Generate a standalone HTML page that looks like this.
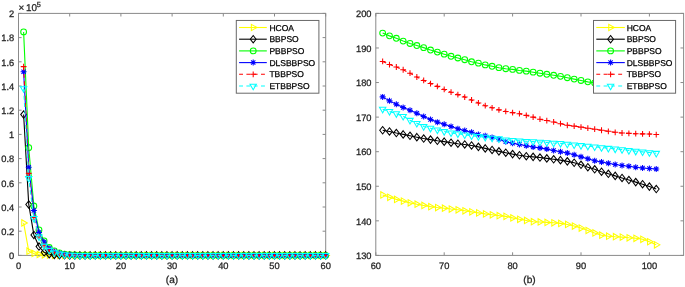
<!DOCTYPE html>
<html><head><meta charset="utf-8"><title>Convergence curves</title>
<style>html,body{margin:0;padding:0;background:#fff}svg{display:block}text{stroke:#262626;stroke-width:.28px;text-rendering:geometricPrecision}text.lg{stroke:#000;stroke-width:.25px}</style></head>
<body>
<svg width="685" height="287" viewBox="0 0 685 287" font-family='"Liberation Sans", Arial, Helvetica, sans-serif' font-size="9.3" fill="#262626">
<rect width="685" height="287" fill="#fff"/>
<rect x="18.5" y="13.4" width="307.2" height="242" fill="#fff" stroke="#8a8a8a" stroke-width="1"/>
<path d="M18.5 255.4v-3.1M18.5 13.4v3.1M69.7 255.4v-3.1M69.7 13.4v3.1M120.9 255.4v-3.1M120.9 13.4v3.1M172.1 255.4v-3.1M172.1 13.4v3.1M223.3 255.4v-3.1M223.3 13.4v3.1M274.5 255.4v-3.1M274.5 13.4v3.1M325.7 255.4v-3.1M325.7 13.4v3.1M18.5 255.4h3.1M325.7 255.4h-3.1M18.5 231.2h3.1M325.7 231.2h-3.1M18.5 207h3.1M325.7 207h-3.1M18.5 182.8h3.1M325.7 182.8h-3.1M18.5 158.6h3.1M325.7 158.6h-3.1M18.5 134.4h3.1M325.7 134.4h-3.1M18.5 110.2h3.1M325.7 110.2h-3.1M18.5 86h3.1M325.7 86h-3.1M18.5 61.8h3.1M325.7 61.8h-3.1M18.5 37.6h3.1M325.7 37.6h-3.1M18.5 13.4h3.1M325.7 13.4h-3.1" stroke="#8a8a8a" stroke-width="1" fill="none"/>
<text x="18.5" y="269.1" text-anchor="middle">0</text>
<text x="69.7" y="269.1" text-anchor="middle">10</text>
<text x="120.9" y="269.1" text-anchor="middle">20</text>
<text x="172.1" y="269.1" text-anchor="middle">30</text>
<text x="223.3" y="269.1" text-anchor="middle">40</text>
<text x="274.5" y="269.1" text-anchor="middle">50</text>
<text x="325.7" y="269.1" text-anchor="middle">60</text>
<text x="14.2" y="259.1" text-anchor="end">0</text>
<text x="14.2" y="234.9" text-anchor="end">0.2</text>
<text x="14.2" y="210.7" text-anchor="end">0.4</text>
<text x="14.2" y="186.5" text-anchor="end">0.6</text>
<text x="14.2" y="162.3" text-anchor="end">0.8</text>
<text x="14.2" y="138.1" text-anchor="end">1</text>
<text x="14.2" y="113.9" text-anchor="end">1.2</text>
<text x="14.2" y="89.7" text-anchor="end">1.4</text>
<text x="14.2" y="65.5" text-anchor="end">1.6</text>
<text x="14.2" y="41.3" text-anchor="end">1.8</text>
<text x="14.2" y="17.1" text-anchor="end">2</text>
<text y="11.0" font-size="9.9"><tspan x="18.6">×</tspan><tspan x="25.9">10</tspan><tspan x="36.7" y="6.7" font-size="7.3">5</tspan></text>
<path d="M23.62 222.97 L28.74 251.16 L33.86 253.46 L38.98 254.43 L44.1 254.92 L49.22 255.16 L54.34 255.28 L59.46 255.4 L64.58 255.4 L69.7 255.4 L74.82 255.4 L79.94 255.4 L85.06 255.4 L90.18 255.4 L95.3 255.4 L100.42 255.4 L105.54 255.4 L110.66 255.4 L115.78 255.4 L120.9 255.4 L126.02 255.4 L131.14 255.4 L136.26 255.4 L141.38 255.4 L146.5 255.4 L151.62 255.4 L156.74 255.4 L161.86 255.4 L166.98 255.4 L172.1 255.4 L177.22 255.4 L182.34 255.4 L187.46 255.4 L192.58 255.4 L197.7 255.4 L202.82 255.4 L207.94 255.4 L213.06 255.4 L218.18 255.4 L223.3 255.4 L228.42 255.4 L233.54 255.4 L238.66 255.4 L243.78 255.4 L248.9 255.4 L254.02 255.4 L259.14 255.4 L264.26 255.4 L269.38 255.4 L274.5 255.4 L279.62 255.4 L284.74 255.4 L289.86 255.4 L294.98 255.4 L300.1 255.4 L305.22 255.4 L310.34 255.4 L315.46 255.4 L320.58 255.4 L325.7 255.4" fill="none" stroke="#ffff00" stroke-width="1.1"/>
<g><polygon points="27.32,222.97 21.77,219.77 21.77,226.18" fill="none" stroke="#ffff00" stroke-width="1.05"/><polygon points="32.44,251.16 26.89,247.96 26.89,254.37" fill="none" stroke="#ffff00" stroke-width="1.05"/><polygon points="37.56,253.46 32.01,250.26 32.01,256.67" fill="none" stroke="#ffff00" stroke-width="1.05"/><polygon points="42.68,254.43 37.13,251.23 37.13,257.64" fill="none" stroke="#ffff00" stroke-width="1.05"/><polygon points="47.8,254.92 42.25,251.71 42.25,258.12" fill="none" stroke="#ffff00" stroke-width="1.05"/><polygon points="52.92,255.16 47.37,251.95 47.37,258.36" fill="none" stroke="#ffff00" stroke-width="1.05"/><polygon points="58.04,255.28 52.49,252.07 52.49,258.48" fill="none" stroke="#ffff00" stroke-width="1.05"/><polygon points="63.16,255.4 57.61,252.2 57.61,258.6" fill="none" stroke="#ffff00" stroke-width="1.05"/><polygon points="68.28,255.4 62.73,252.2 62.73,258.6" fill="none" stroke="#ffff00" stroke-width="1.05"/><polygon points="73.4,255.4 67.85,252.2 67.85,258.6" fill="none" stroke="#ffff00" stroke-width="1.05"/><polygon points="78.52,255.4 72.97,252.2 72.97,258.6" fill="none" stroke="#ffff00" stroke-width="1.05"/><polygon points="83.64,255.4 78.09,252.2 78.09,258.6" fill="none" stroke="#ffff00" stroke-width="1.05"/><polygon points="88.76,255.4 83.21,252.2 83.21,258.6" fill="none" stroke="#ffff00" stroke-width="1.05"/><polygon points="93.88,255.4 88.33,252.2 88.33,258.6" fill="none" stroke="#ffff00" stroke-width="1.05"/><polygon points="99,255.4 93.45,252.2 93.45,258.6" fill="none" stroke="#ffff00" stroke-width="1.05"/><polygon points="104.12,255.4 98.57,252.2 98.57,258.6" fill="none" stroke="#ffff00" stroke-width="1.05"/><polygon points="109.24,255.4 103.69,252.2 103.69,258.6" fill="none" stroke="#ffff00" stroke-width="1.05"/><polygon points="114.36,255.4 108.81,252.2 108.81,258.6" fill="none" stroke="#ffff00" stroke-width="1.05"/><polygon points="119.48,255.4 113.93,252.2 113.93,258.6" fill="none" stroke="#ffff00" stroke-width="1.05"/><polygon points="124.6,255.4 119.05,252.2 119.05,258.6" fill="none" stroke="#ffff00" stroke-width="1.05"/><polygon points="129.72,255.4 124.17,252.2 124.17,258.6" fill="none" stroke="#ffff00" stroke-width="1.05"/><polygon points="134.84,255.4 129.29,252.2 129.29,258.6" fill="none" stroke="#ffff00" stroke-width="1.05"/><polygon points="139.96,255.4 134.41,252.2 134.41,258.6" fill="none" stroke="#ffff00" stroke-width="1.05"/><polygon points="145.08,255.4 139.53,252.2 139.53,258.6" fill="none" stroke="#ffff00" stroke-width="1.05"/><polygon points="150.2,255.4 144.65,252.2 144.65,258.6" fill="none" stroke="#ffff00" stroke-width="1.05"/><polygon points="155.32,255.4 149.77,252.2 149.77,258.6" fill="none" stroke="#ffff00" stroke-width="1.05"/><polygon points="160.44,255.4 154.89,252.2 154.89,258.6" fill="none" stroke="#ffff00" stroke-width="1.05"/><polygon points="165.56,255.4 160.01,252.2 160.01,258.6" fill="none" stroke="#ffff00" stroke-width="1.05"/><polygon points="170.68,255.4 165.13,252.2 165.13,258.6" fill="none" stroke="#ffff00" stroke-width="1.05"/><polygon points="175.8,255.4 170.25,252.2 170.25,258.6" fill="none" stroke="#ffff00" stroke-width="1.05"/><polygon points="180.92,255.4 175.37,252.2 175.37,258.6" fill="none" stroke="#ffff00" stroke-width="1.05"/><polygon points="186.04,255.4 180.49,252.2 180.49,258.6" fill="none" stroke="#ffff00" stroke-width="1.05"/><polygon points="191.16,255.4 185.61,252.2 185.61,258.6" fill="none" stroke="#ffff00" stroke-width="1.05"/><polygon points="196.28,255.4 190.73,252.2 190.73,258.6" fill="none" stroke="#ffff00" stroke-width="1.05"/><polygon points="201.4,255.4 195.85,252.2 195.85,258.6" fill="none" stroke="#ffff00" stroke-width="1.05"/><polygon points="206.52,255.4 200.97,252.2 200.97,258.6" fill="none" stroke="#ffff00" stroke-width="1.05"/><polygon points="211.64,255.4 206.09,252.2 206.09,258.6" fill="none" stroke="#ffff00" stroke-width="1.05"/><polygon points="216.76,255.4 211.21,252.2 211.21,258.6" fill="none" stroke="#ffff00" stroke-width="1.05"/><polygon points="221.88,255.4 216.33,252.2 216.33,258.6" fill="none" stroke="#ffff00" stroke-width="1.05"/><polygon points="227,255.4 221.45,252.2 221.45,258.6" fill="none" stroke="#ffff00" stroke-width="1.05"/><polygon points="232.12,255.4 226.57,252.2 226.57,258.6" fill="none" stroke="#ffff00" stroke-width="1.05"/><polygon points="237.24,255.4 231.69,252.2 231.69,258.6" fill="none" stroke="#ffff00" stroke-width="1.05"/><polygon points="242.36,255.4 236.81,252.2 236.81,258.6" fill="none" stroke="#ffff00" stroke-width="1.05"/><polygon points="247.48,255.4 241.93,252.2 241.93,258.6" fill="none" stroke="#ffff00" stroke-width="1.05"/><polygon points="252.6,255.4 247.05,252.2 247.05,258.6" fill="none" stroke="#ffff00" stroke-width="1.05"/><polygon points="257.72,255.4 252.17,252.2 252.17,258.6" fill="none" stroke="#ffff00" stroke-width="1.05"/><polygon points="262.84,255.4 257.29,252.2 257.29,258.6" fill="none" stroke="#ffff00" stroke-width="1.05"/><polygon points="267.96,255.4 262.41,252.2 262.41,258.6" fill="none" stroke="#ffff00" stroke-width="1.05"/><polygon points="273.08,255.4 267.53,252.2 267.53,258.6" fill="none" stroke="#ffff00" stroke-width="1.05"/><polygon points="278.2,255.4 272.65,252.2 272.65,258.6" fill="none" stroke="#ffff00" stroke-width="1.05"/><polygon points="283.32,255.4 277.77,252.2 277.77,258.6" fill="none" stroke="#ffff00" stroke-width="1.05"/><polygon points="288.44,255.4 282.89,252.2 282.89,258.6" fill="none" stroke="#ffff00" stroke-width="1.05"/><polygon points="293.56,255.4 288.01,252.2 288.01,258.6" fill="none" stroke="#ffff00" stroke-width="1.05"/><polygon points="298.68,255.4 293.13,252.2 293.13,258.6" fill="none" stroke="#ffff00" stroke-width="1.05"/><polygon points="303.8,255.4 298.25,252.2 298.25,258.6" fill="none" stroke="#ffff00" stroke-width="1.05"/><polygon points="308.92,255.4 303.37,252.2 303.37,258.6" fill="none" stroke="#ffff00" stroke-width="1.05"/><polygon points="314.04,255.4 308.49,252.2 308.49,258.6" fill="none" stroke="#ffff00" stroke-width="1.05"/><polygon points="319.16,255.4 313.61,252.2 313.61,258.6" fill="none" stroke="#ffff00" stroke-width="1.05"/><polygon points="324.28,255.4 318.73,252.2 318.73,258.6" fill="none" stroke="#ffff00" stroke-width="1.05"/><polygon points="329.4,255.4 323.85,252.2 323.85,258.6" fill="none" stroke="#ffff00" stroke-width="1.05"/></g>
<path d="M23.62 114.56 L28.74 204.46 L33.86 234.95 L38.98 246.57 L44.1 252.25 L49.22 254.19 L54.34 254.92 L59.46 255.16 L64.58 255.28 L69.7 255.4 L74.82 255.4 L79.94 255.4 L85.06 255.4 L90.18 255.4 L95.3 255.4 L100.42 255.4 L105.54 255.4 L110.66 255.4 L115.78 255.4 L120.9 255.4 L126.02 255.4 L131.14 255.4 L136.26 255.4 L141.38 255.4 L146.5 255.4 L151.62 255.4 L156.74 255.4 L161.86 255.4 L166.98 255.4 L172.1 255.4 L177.22 255.4 L182.34 255.4 L187.46 255.4 L192.58 255.4 L197.7 255.4 L202.82 255.4 L207.94 255.4 L213.06 255.4 L218.18 255.4 L223.3 255.4 L228.42 255.4 L233.54 255.4 L238.66 255.4 L243.78 255.4 L248.9 255.4 L254.02 255.4 L259.14 255.4 L264.26 255.4 L269.38 255.4 L274.5 255.4 L279.62 255.4 L284.74 255.4 L289.86 255.4 L294.98 255.4 L300.1 255.4 L305.22 255.4 L310.34 255.4 L315.46 255.4 L320.58 255.4 L325.7 255.4" fill="none" stroke="#000000" stroke-width="1.1"/>
<g><polygon points="23.62,110.86 26.52,114.56 23.62,118.26 20.72,114.56" fill="none" stroke="#000000" stroke-width="1.05"/><polygon points="28.74,200.76 31.64,204.46 28.74,208.16 25.84,204.46" fill="none" stroke="#000000" stroke-width="1.05"/><polygon points="33.86,231.25 36.76,234.95 33.86,238.65 30.96,234.95" fill="none" stroke="#000000" stroke-width="1.05"/><polygon points="38.98,242.87 41.88,246.57 38.98,250.27 36.08,246.57" fill="none" stroke="#000000" stroke-width="1.05"/><polygon points="44.1,248.55 47,252.25 44.1,255.95 41.2,252.25" fill="none" stroke="#000000" stroke-width="1.05"/><polygon points="49.22,250.49 52.12,254.19 49.22,257.89 46.32,254.19" fill="none" stroke="#000000" stroke-width="1.05"/><polygon points="54.34,251.22 57.24,254.92 54.34,258.62 51.44,254.92" fill="none" stroke="#000000" stroke-width="1.05"/><polygon points="59.46,251.46 62.36,255.16 59.46,258.86 56.56,255.16" fill="none" stroke="#000000" stroke-width="1.05"/><polygon points="64.58,251.58 67.48,255.28 64.58,258.98 61.68,255.28" fill="none" stroke="#000000" stroke-width="1.05"/><polygon points="69.7,251.7 72.6,255.4 69.7,259.1 66.8,255.4" fill="none" stroke="#000000" stroke-width="1.05"/><polygon points="74.82,251.7 77.72,255.4 74.82,259.1 71.92,255.4" fill="none" stroke="#000000" stroke-width="1.05"/><polygon points="79.94,251.7 82.84,255.4 79.94,259.1 77.04,255.4" fill="none" stroke="#000000" stroke-width="1.05"/><polygon points="85.06,251.7 87.96,255.4 85.06,259.1 82.16,255.4" fill="none" stroke="#000000" stroke-width="1.05"/><polygon points="90.18,251.7 93.08,255.4 90.18,259.1 87.28,255.4" fill="none" stroke="#000000" stroke-width="1.05"/><polygon points="95.3,251.7 98.2,255.4 95.3,259.1 92.4,255.4" fill="none" stroke="#000000" stroke-width="1.05"/><polygon points="100.42,251.7 103.32,255.4 100.42,259.1 97.52,255.4" fill="none" stroke="#000000" stroke-width="1.05"/><polygon points="105.54,251.7 108.44,255.4 105.54,259.1 102.64,255.4" fill="none" stroke="#000000" stroke-width="1.05"/><polygon points="110.66,251.7 113.56,255.4 110.66,259.1 107.76,255.4" fill="none" stroke="#000000" stroke-width="1.05"/><polygon points="115.78,251.7 118.68,255.4 115.78,259.1 112.88,255.4" fill="none" stroke="#000000" stroke-width="1.05"/><polygon points="120.9,251.7 123.8,255.4 120.9,259.1 118,255.4" fill="none" stroke="#000000" stroke-width="1.05"/><polygon points="126.02,251.7 128.92,255.4 126.02,259.1 123.12,255.4" fill="none" stroke="#000000" stroke-width="1.05"/><polygon points="131.14,251.7 134.04,255.4 131.14,259.1 128.24,255.4" fill="none" stroke="#000000" stroke-width="1.05"/><polygon points="136.26,251.7 139.16,255.4 136.26,259.1 133.36,255.4" fill="none" stroke="#000000" stroke-width="1.05"/><polygon points="141.38,251.7 144.28,255.4 141.38,259.1 138.48,255.4" fill="none" stroke="#000000" stroke-width="1.05"/><polygon points="146.5,251.7 149.4,255.4 146.5,259.1 143.6,255.4" fill="none" stroke="#000000" stroke-width="1.05"/><polygon points="151.62,251.7 154.52,255.4 151.62,259.1 148.72,255.4" fill="none" stroke="#000000" stroke-width="1.05"/><polygon points="156.74,251.7 159.64,255.4 156.74,259.1 153.84,255.4" fill="none" stroke="#000000" stroke-width="1.05"/><polygon points="161.86,251.7 164.76,255.4 161.86,259.1 158.96,255.4" fill="none" stroke="#000000" stroke-width="1.05"/><polygon points="166.98,251.7 169.88,255.4 166.98,259.1 164.08,255.4" fill="none" stroke="#000000" stroke-width="1.05"/><polygon points="172.1,251.7 175,255.4 172.1,259.1 169.2,255.4" fill="none" stroke="#000000" stroke-width="1.05"/><polygon points="177.22,251.7 180.12,255.4 177.22,259.1 174.32,255.4" fill="none" stroke="#000000" stroke-width="1.05"/><polygon points="182.34,251.7 185.24,255.4 182.34,259.1 179.44,255.4" fill="none" stroke="#000000" stroke-width="1.05"/><polygon points="187.46,251.7 190.36,255.4 187.46,259.1 184.56,255.4" fill="none" stroke="#000000" stroke-width="1.05"/><polygon points="192.58,251.7 195.48,255.4 192.58,259.1 189.68,255.4" fill="none" stroke="#000000" stroke-width="1.05"/><polygon points="197.7,251.7 200.6,255.4 197.7,259.1 194.8,255.4" fill="none" stroke="#000000" stroke-width="1.05"/><polygon points="202.82,251.7 205.72,255.4 202.82,259.1 199.92,255.4" fill="none" stroke="#000000" stroke-width="1.05"/><polygon points="207.94,251.7 210.84,255.4 207.94,259.1 205.04,255.4" fill="none" stroke="#000000" stroke-width="1.05"/><polygon points="213.06,251.7 215.96,255.4 213.06,259.1 210.16,255.4" fill="none" stroke="#000000" stroke-width="1.05"/><polygon points="218.18,251.7 221.08,255.4 218.18,259.1 215.28,255.4" fill="none" stroke="#000000" stroke-width="1.05"/><polygon points="223.3,251.7 226.2,255.4 223.3,259.1 220.4,255.4" fill="none" stroke="#000000" stroke-width="1.05"/><polygon points="228.42,251.7 231.32,255.4 228.42,259.1 225.52,255.4" fill="none" stroke="#000000" stroke-width="1.05"/><polygon points="233.54,251.7 236.44,255.4 233.54,259.1 230.64,255.4" fill="none" stroke="#000000" stroke-width="1.05"/><polygon points="238.66,251.7 241.56,255.4 238.66,259.1 235.76,255.4" fill="none" stroke="#000000" stroke-width="1.05"/><polygon points="243.78,251.7 246.68,255.4 243.78,259.1 240.88,255.4" fill="none" stroke="#000000" stroke-width="1.05"/><polygon points="248.9,251.7 251.8,255.4 248.9,259.1 246,255.4" fill="none" stroke="#000000" stroke-width="1.05"/><polygon points="254.02,251.7 256.92,255.4 254.02,259.1 251.12,255.4" fill="none" stroke="#000000" stroke-width="1.05"/><polygon points="259.14,251.7 262.04,255.4 259.14,259.1 256.24,255.4" fill="none" stroke="#000000" stroke-width="1.05"/><polygon points="264.26,251.7 267.16,255.4 264.26,259.1 261.36,255.4" fill="none" stroke="#000000" stroke-width="1.05"/><polygon points="269.38,251.7 272.28,255.4 269.38,259.1 266.48,255.4" fill="none" stroke="#000000" stroke-width="1.05"/><polygon points="274.5,251.7 277.4,255.4 274.5,259.1 271.6,255.4" fill="none" stroke="#000000" stroke-width="1.05"/><polygon points="279.62,251.7 282.52,255.4 279.62,259.1 276.72,255.4" fill="none" stroke="#000000" stroke-width="1.05"/><polygon points="284.74,251.7 287.64,255.4 284.74,259.1 281.84,255.4" fill="none" stroke="#000000" stroke-width="1.05"/><polygon points="289.86,251.7 292.76,255.4 289.86,259.1 286.96,255.4" fill="none" stroke="#000000" stroke-width="1.05"/><polygon points="294.98,251.7 297.88,255.4 294.98,259.1 292.08,255.4" fill="none" stroke="#000000" stroke-width="1.05"/><polygon points="300.1,251.7 303,255.4 300.1,259.1 297.2,255.4" fill="none" stroke="#000000" stroke-width="1.05"/><polygon points="305.22,251.7 308.12,255.4 305.22,259.1 302.32,255.4" fill="none" stroke="#000000" stroke-width="1.05"/><polygon points="310.34,251.7 313.24,255.4 310.34,259.1 307.44,255.4" fill="none" stroke="#000000" stroke-width="1.05"/><polygon points="315.46,251.7 318.36,255.4 315.46,259.1 312.56,255.4" fill="none" stroke="#000000" stroke-width="1.05"/><polygon points="320.58,251.7 323.48,255.4 320.58,259.1 317.68,255.4" fill="none" stroke="#000000" stroke-width="1.05"/><polygon points="325.7,251.7 328.6,255.4 325.7,259.1 322.8,255.4" fill="none" stroke="#000000" stroke-width="1.05"/></g>
<path d="M23.62 31.91 L28.74 147.71 L33.86 206.03 L38.98 229.99 L44.1 240.88 L49.22 247.53 L54.34 250.92 L59.46 252.98 L64.58 254.07 L69.7 254.67 L74.82 255.04 L79.94 255.16 L85.06 255.28 L90.18 255.4 L95.3 255.4 L100.42 255.4 L105.54 255.4 L110.66 255.4 L115.78 255.4 L120.9 255.4 L126.02 255.4 L131.14 255.4 L136.26 255.4 L141.38 255.4 L146.5 255.4 L151.62 255.4 L156.74 255.4 L161.86 255.4 L166.98 255.4 L172.1 255.4 L177.22 255.4 L182.34 255.4 L187.46 255.4 L192.58 255.4 L197.7 255.4 L202.82 255.4 L207.94 255.4 L213.06 255.4 L218.18 255.4 L223.3 255.4 L228.42 255.4 L233.54 255.4 L238.66 255.4 L243.78 255.4 L248.9 255.4 L254.02 255.4 L259.14 255.4 L264.26 255.4 L269.38 255.4 L274.5 255.4 L279.62 255.4 L284.74 255.4 L289.86 255.4 L294.98 255.4 L300.1 255.4 L305.22 255.4 L310.34 255.4 L315.46 255.4 L320.58 255.4 L325.7 255.4" fill="none" stroke="#00ff00" stroke-width="1.1"/>
<g><circle cx="23.62" cy="31.91" r="2.9" fill="none" stroke="#00ff00" stroke-width="1.05"/><circle cx="28.74" cy="147.71" r="2.9" fill="none" stroke="#00ff00" stroke-width="1.05"/><circle cx="33.86" cy="206.03" r="2.9" fill="none" stroke="#00ff00" stroke-width="1.05"/><circle cx="38.98" cy="229.99" r="2.9" fill="none" stroke="#00ff00" stroke-width="1.05"/><circle cx="44.1" cy="240.88" r="2.9" fill="none" stroke="#00ff00" stroke-width="1.05"/><circle cx="49.22" cy="247.53" r="2.9" fill="none" stroke="#00ff00" stroke-width="1.05"/><circle cx="54.34" cy="250.92" r="2.9" fill="none" stroke="#00ff00" stroke-width="1.05"/><circle cx="59.46" cy="252.98" r="2.9" fill="none" stroke="#00ff00" stroke-width="1.05"/><circle cx="64.58" cy="254.07" r="2.9" fill="none" stroke="#00ff00" stroke-width="1.05"/><circle cx="69.7" cy="254.67" r="2.9" fill="none" stroke="#00ff00" stroke-width="1.05"/><circle cx="74.82" cy="255.04" r="2.9" fill="none" stroke="#00ff00" stroke-width="1.05"/><circle cx="79.94" cy="255.16" r="2.9" fill="none" stroke="#00ff00" stroke-width="1.05"/><circle cx="85.06" cy="255.28" r="2.9" fill="none" stroke="#00ff00" stroke-width="1.05"/><circle cx="90.18" cy="255.4" r="2.9" fill="none" stroke="#00ff00" stroke-width="1.05"/><circle cx="95.3" cy="255.4" r="2.9" fill="none" stroke="#00ff00" stroke-width="1.05"/><circle cx="100.42" cy="255.4" r="2.9" fill="none" stroke="#00ff00" stroke-width="1.05"/><circle cx="105.54" cy="255.4" r="2.9" fill="none" stroke="#00ff00" stroke-width="1.05"/><circle cx="110.66" cy="255.4" r="2.9" fill="none" stroke="#00ff00" stroke-width="1.05"/><circle cx="115.78" cy="255.4" r="2.9" fill="none" stroke="#00ff00" stroke-width="1.05"/><circle cx="120.9" cy="255.4" r="2.9" fill="none" stroke="#00ff00" stroke-width="1.05"/><circle cx="126.02" cy="255.4" r="2.9" fill="none" stroke="#00ff00" stroke-width="1.05"/><circle cx="131.14" cy="255.4" r="2.9" fill="none" stroke="#00ff00" stroke-width="1.05"/><circle cx="136.26" cy="255.4" r="2.9" fill="none" stroke="#00ff00" stroke-width="1.05"/><circle cx="141.38" cy="255.4" r="2.9" fill="none" stroke="#00ff00" stroke-width="1.05"/><circle cx="146.5" cy="255.4" r="2.9" fill="none" stroke="#00ff00" stroke-width="1.05"/><circle cx="151.62" cy="255.4" r="2.9" fill="none" stroke="#00ff00" stroke-width="1.05"/><circle cx="156.74" cy="255.4" r="2.9" fill="none" stroke="#00ff00" stroke-width="1.05"/><circle cx="161.86" cy="255.4" r="2.9" fill="none" stroke="#00ff00" stroke-width="1.05"/><circle cx="166.98" cy="255.4" r="2.9" fill="none" stroke="#00ff00" stroke-width="1.05"/><circle cx="172.1" cy="255.4" r="2.9" fill="none" stroke="#00ff00" stroke-width="1.05"/><circle cx="177.22" cy="255.4" r="2.9" fill="none" stroke="#00ff00" stroke-width="1.05"/><circle cx="182.34" cy="255.4" r="2.9" fill="none" stroke="#00ff00" stroke-width="1.05"/><circle cx="187.46" cy="255.4" r="2.9" fill="none" stroke="#00ff00" stroke-width="1.05"/><circle cx="192.58" cy="255.4" r="2.9" fill="none" stroke="#00ff00" stroke-width="1.05"/><circle cx="197.7" cy="255.4" r="2.9" fill="none" stroke="#00ff00" stroke-width="1.05"/><circle cx="202.82" cy="255.4" r="2.9" fill="none" stroke="#00ff00" stroke-width="1.05"/><circle cx="207.94" cy="255.4" r="2.9" fill="none" stroke="#00ff00" stroke-width="1.05"/><circle cx="213.06" cy="255.4" r="2.9" fill="none" stroke="#00ff00" stroke-width="1.05"/><circle cx="218.18" cy="255.4" r="2.9" fill="none" stroke="#00ff00" stroke-width="1.05"/><circle cx="223.3" cy="255.4" r="2.9" fill="none" stroke="#00ff00" stroke-width="1.05"/><circle cx="228.42" cy="255.4" r="2.9" fill="none" stroke="#00ff00" stroke-width="1.05"/><circle cx="233.54" cy="255.4" r="2.9" fill="none" stroke="#00ff00" stroke-width="1.05"/><circle cx="238.66" cy="255.4" r="2.9" fill="none" stroke="#00ff00" stroke-width="1.05"/><circle cx="243.78" cy="255.4" r="2.9" fill="none" stroke="#00ff00" stroke-width="1.05"/><circle cx="248.9" cy="255.4" r="2.9" fill="none" stroke="#00ff00" stroke-width="1.05"/><circle cx="254.02" cy="255.4" r="2.9" fill="none" stroke="#00ff00" stroke-width="1.05"/><circle cx="259.14" cy="255.4" r="2.9" fill="none" stroke="#00ff00" stroke-width="1.05"/><circle cx="264.26" cy="255.4" r="2.9" fill="none" stroke="#00ff00" stroke-width="1.05"/><circle cx="269.38" cy="255.4" r="2.9" fill="none" stroke="#00ff00" stroke-width="1.05"/><circle cx="274.5" cy="255.4" r="2.9" fill="none" stroke="#00ff00" stroke-width="1.05"/><circle cx="279.62" cy="255.4" r="2.9" fill="none" stroke="#00ff00" stroke-width="1.05"/><circle cx="284.74" cy="255.4" r="2.9" fill="none" stroke="#00ff00" stroke-width="1.05"/><circle cx="289.86" cy="255.4" r="2.9" fill="none" stroke="#00ff00" stroke-width="1.05"/><circle cx="294.98" cy="255.4" r="2.9" fill="none" stroke="#00ff00" stroke-width="1.05"/><circle cx="300.1" cy="255.4" r="2.9" fill="none" stroke="#00ff00" stroke-width="1.05"/><circle cx="305.22" cy="255.4" r="2.9" fill="none" stroke="#00ff00" stroke-width="1.05"/><circle cx="310.34" cy="255.4" r="2.9" fill="none" stroke="#00ff00" stroke-width="1.05"/><circle cx="315.46" cy="255.4" r="2.9" fill="none" stroke="#00ff00" stroke-width="1.05"/><circle cx="320.58" cy="255.4" r="2.9" fill="none" stroke="#00ff00" stroke-width="1.05"/><circle cx="325.7" cy="255.4" r="2.9" fill="none" stroke="#00ff00" stroke-width="1.05"/></g>
<path d="M23.62 71.84 L28.74 167.19 L33.86 210.51 L38.98 232.41 L44.1 242.09 L49.22 248.38 L54.34 251.41 L59.46 253.22 L64.58 254.19 L69.7 254.8 L74.82 255.04 L79.94 255.28 L85.06 255.4 L90.18 255.4 L95.3 255.4 L100.42 255.4 L105.54 255.4 L110.66 255.4 L115.78 255.4 L120.9 255.4 L126.02 255.4 L131.14 255.4 L136.26 255.4 L141.38 255.4 L146.5 255.4 L151.62 255.4 L156.74 255.4 L161.86 255.4 L166.98 255.4 L172.1 255.4 L177.22 255.4 L182.34 255.4 L187.46 255.4 L192.58 255.4 L197.7 255.4 L202.82 255.4 L207.94 255.4 L213.06 255.4 L218.18 255.4 L223.3 255.4 L228.42 255.4 L233.54 255.4 L238.66 255.4 L243.78 255.4 L248.9 255.4 L254.02 255.4 L259.14 255.4 L264.26 255.4 L269.38 255.4 L274.5 255.4 L279.62 255.4 L284.74 255.4 L289.86 255.4 L294.98 255.4 L300.1 255.4 L305.22 255.4 L310.34 255.4 L315.46 255.4 L320.58 255.4 L325.7 255.4" fill="none" stroke="#0000ff" stroke-width="1.1"/>
<g><path d="M20.62 71.84H26.62M23.62 68.84V74.84M21.47 69.69L25.77 73.99M21.47 73.99L25.77 69.69" stroke="#0000ff" stroke-width="1.05" fill="none"/><path d="M25.74 167.19H31.74M28.74 164.19V170.19M26.59 165.04L30.89 169.34M26.59 169.34L30.89 165.04" stroke="#0000ff" stroke-width="1.05" fill="none"/><path d="M30.86 210.51H36.86M33.86 207.51V213.51M31.71 208.36L36.01 212.66M31.71 212.66L36.01 208.36" stroke="#0000ff" stroke-width="1.05" fill="none"/><path d="M35.98 232.41H41.98M38.98 229.41V235.41M36.83 230.26L41.13 234.56M36.83 234.56L41.13 230.26" stroke="#0000ff" stroke-width="1.05" fill="none"/><path d="M41.1 242.09H47.1M44.1 239.09V245.09M41.95 239.94L46.25 244.24M41.95 244.24L46.25 239.94" stroke="#0000ff" stroke-width="1.05" fill="none"/><path d="M46.22 248.38H52.22M49.22 245.38V251.38M47.07 246.23L51.37 250.53M47.07 250.53L51.37 246.23" stroke="#0000ff" stroke-width="1.05" fill="none"/><path d="M51.34 251.41H57.34M54.34 248.41V254.41M52.19 249.26L56.49 253.56M52.19 253.56L56.49 249.26" stroke="#0000ff" stroke-width="1.05" fill="none"/><path d="M56.46 253.22H62.46M59.46 250.22V256.22M57.31 251.07L61.61 255.37M57.31 255.37L61.61 251.07" stroke="#0000ff" stroke-width="1.05" fill="none"/><path d="M61.58 254.19H67.58M64.58 251.19V257.19M62.43 252.04L66.73 256.34M62.43 256.34L66.73 252.04" stroke="#0000ff" stroke-width="1.05" fill="none"/><path d="M66.7 254.8H72.7M69.7 251.8V257.8M67.55 252.65L71.85 256.94M67.55 256.94L71.85 252.65" stroke="#0000ff" stroke-width="1.05" fill="none"/><path d="M71.82 255.04H77.82M74.82 252.04V258.04M72.67 252.89L76.97 257.19M72.67 257.19L76.97 252.89" stroke="#0000ff" stroke-width="1.05" fill="none"/><path d="M76.94 255.28H82.94M79.94 252.28V258.28M77.79 253.13L82.09 257.43M77.79 257.43L82.09 253.13" stroke="#0000ff" stroke-width="1.05" fill="none"/><path d="M82.06 255.4H88.06M85.06 252.4V258.4M82.91 253.25L87.21 257.55M82.91 257.55L87.21 253.25" stroke="#0000ff" stroke-width="1.05" fill="none"/><path d="M87.18 255.4H93.18M90.18 252.4V258.4M88.03 253.25L92.33 257.55M88.03 257.55L92.33 253.25" stroke="#0000ff" stroke-width="1.05" fill="none"/><path d="M92.3 255.4H98.3M95.3 252.4V258.4M93.15 253.25L97.45 257.55M93.15 257.55L97.45 253.25" stroke="#0000ff" stroke-width="1.05" fill="none"/><path d="M97.42 255.4H103.42M100.42 252.4V258.4M98.27 253.25L102.57 257.55M98.27 257.55L102.57 253.25" stroke="#0000ff" stroke-width="1.05" fill="none"/><path d="M102.54 255.4H108.54M105.54 252.4V258.4M103.39 253.25L107.69 257.55M103.39 257.55L107.69 253.25" stroke="#0000ff" stroke-width="1.05" fill="none"/><path d="M107.66 255.4H113.66M110.66 252.4V258.4M108.51 253.25L112.81 257.55M108.51 257.55L112.81 253.25" stroke="#0000ff" stroke-width="1.05" fill="none"/><path d="M112.78 255.4H118.78M115.78 252.4V258.4M113.63 253.25L117.93 257.55M113.63 257.55L117.93 253.25" stroke="#0000ff" stroke-width="1.05" fill="none"/><path d="M117.9 255.4H123.9M120.9 252.4V258.4M118.75 253.25L123.05 257.55M118.75 257.55L123.05 253.25" stroke="#0000ff" stroke-width="1.05" fill="none"/><path d="M123.02 255.4H129.02M126.02 252.4V258.4M123.87 253.25L128.17 257.55M123.87 257.55L128.17 253.25" stroke="#0000ff" stroke-width="1.05" fill="none"/><path d="M128.14 255.4H134.14M131.14 252.4V258.4M128.99 253.25L133.29 257.55M128.99 257.55L133.29 253.25" stroke="#0000ff" stroke-width="1.05" fill="none"/><path d="M133.26 255.4H139.26M136.26 252.4V258.4M134.11 253.25L138.41 257.55M134.11 257.55L138.41 253.25" stroke="#0000ff" stroke-width="1.05" fill="none"/><path d="M138.38 255.4H144.38M141.38 252.4V258.4M139.23 253.25L143.53 257.55M139.23 257.55L143.53 253.25" stroke="#0000ff" stroke-width="1.05" fill="none"/><path d="M143.5 255.4H149.5M146.5 252.4V258.4M144.35 253.25L148.65 257.55M144.35 257.55L148.65 253.25" stroke="#0000ff" stroke-width="1.05" fill="none"/><path d="M148.62 255.4H154.62M151.62 252.4V258.4M149.47 253.25L153.77 257.55M149.47 257.55L153.77 253.25" stroke="#0000ff" stroke-width="1.05" fill="none"/><path d="M153.74 255.4H159.74M156.74 252.4V258.4M154.59 253.25L158.89 257.55M154.59 257.55L158.89 253.25" stroke="#0000ff" stroke-width="1.05" fill="none"/><path d="M158.86 255.4H164.86M161.86 252.4V258.4M159.71 253.25L164.01 257.55M159.71 257.55L164.01 253.25" stroke="#0000ff" stroke-width="1.05" fill="none"/><path d="M163.98 255.4H169.98M166.98 252.4V258.4M164.83 253.25L169.13 257.55M164.83 257.55L169.13 253.25" stroke="#0000ff" stroke-width="1.05" fill="none"/><path d="M169.1 255.4H175.1M172.1 252.4V258.4M169.95 253.25L174.25 257.55M169.95 257.55L174.25 253.25" stroke="#0000ff" stroke-width="1.05" fill="none"/><path d="M174.22 255.4H180.22M177.22 252.4V258.4M175.07 253.25L179.37 257.55M175.07 257.55L179.37 253.25" stroke="#0000ff" stroke-width="1.05" fill="none"/><path d="M179.34 255.4H185.34M182.34 252.4V258.4M180.19 253.25L184.49 257.55M180.19 257.55L184.49 253.25" stroke="#0000ff" stroke-width="1.05" fill="none"/><path d="M184.46 255.4H190.46M187.46 252.4V258.4M185.31 253.25L189.61 257.55M185.31 257.55L189.61 253.25" stroke="#0000ff" stroke-width="1.05" fill="none"/><path d="M189.58 255.4H195.58M192.58 252.4V258.4M190.43 253.25L194.73 257.55M190.43 257.55L194.73 253.25" stroke="#0000ff" stroke-width="1.05" fill="none"/><path d="M194.7 255.4H200.7M197.7 252.4V258.4M195.55 253.25L199.85 257.55M195.55 257.55L199.85 253.25" stroke="#0000ff" stroke-width="1.05" fill="none"/><path d="M199.82 255.4H205.82M202.82 252.4V258.4M200.67 253.25L204.97 257.55M200.67 257.55L204.97 253.25" stroke="#0000ff" stroke-width="1.05" fill="none"/><path d="M204.94 255.4H210.94M207.94 252.4V258.4M205.79 253.25L210.09 257.55M205.79 257.55L210.09 253.25" stroke="#0000ff" stroke-width="1.05" fill="none"/><path d="M210.06 255.4H216.06M213.06 252.4V258.4M210.91 253.25L215.21 257.55M210.91 257.55L215.21 253.25" stroke="#0000ff" stroke-width="1.05" fill="none"/><path d="M215.18 255.4H221.18M218.18 252.4V258.4M216.03 253.25L220.33 257.55M216.03 257.55L220.33 253.25" stroke="#0000ff" stroke-width="1.05" fill="none"/><path d="M220.3 255.4H226.3M223.3 252.4V258.4M221.15 253.25L225.45 257.55M221.15 257.55L225.45 253.25" stroke="#0000ff" stroke-width="1.05" fill="none"/><path d="M225.42 255.4H231.42M228.42 252.4V258.4M226.27 253.25L230.57 257.55M226.27 257.55L230.57 253.25" stroke="#0000ff" stroke-width="1.05" fill="none"/><path d="M230.54 255.4H236.54M233.54 252.4V258.4M231.39 253.25L235.69 257.55M231.39 257.55L235.69 253.25" stroke="#0000ff" stroke-width="1.05" fill="none"/><path d="M235.66 255.4H241.66M238.66 252.4V258.4M236.51 253.25L240.81 257.55M236.51 257.55L240.81 253.25" stroke="#0000ff" stroke-width="1.05" fill="none"/><path d="M240.78 255.4H246.78M243.78 252.4V258.4M241.63 253.25L245.93 257.55M241.63 257.55L245.93 253.25" stroke="#0000ff" stroke-width="1.05" fill="none"/><path d="M245.9 255.4H251.9M248.9 252.4V258.4M246.75 253.25L251.05 257.55M246.75 257.55L251.05 253.25" stroke="#0000ff" stroke-width="1.05" fill="none"/><path d="M251.02 255.4H257.02M254.02 252.4V258.4M251.87 253.25L256.17 257.55M251.87 257.55L256.17 253.25" stroke="#0000ff" stroke-width="1.05" fill="none"/><path d="M256.14 255.4H262.14M259.14 252.4V258.4M256.99 253.25L261.29 257.55M256.99 257.55L261.29 253.25" stroke="#0000ff" stroke-width="1.05" fill="none"/><path d="M261.26 255.4H267.26M264.26 252.4V258.4M262.11 253.25L266.41 257.55M262.11 257.55L266.41 253.25" stroke="#0000ff" stroke-width="1.05" fill="none"/><path d="M266.38 255.4H272.38M269.38 252.4V258.4M267.23 253.25L271.53 257.55M267.23 257.55L271.53 253.25" stroke="#0000ff" stroke-width="1.05" fill="none"/><path d="M271.5 255.4H277.5M274.5 252.4V258.4M272.35 253.25L276.65 257.55M272.35 257.55L276.65 253.25" stroke="#0000ff" stroke-width="1.05" fill="none"/><path d="M276.62 255.4H282.62M279.62 252.4V258.4M277.47 253.25L281.77 257.55M277.47 257.55L281.77 253.25" stroke="#0000ff" stroke-width="1.05" fill="none"/><path d="M281.74 255.4H287.74M284.74 252.4V258.4M282.59 253.25L286.89 257.55M282.59 257.55L286.89 253.25" stroke="#0000ff" stroke-width="1.05" fill="none"/><path d="M286.86 255.4H292.86M289.86 252.4V258.4M287.71 253.25L292.01 257.55M287.71 257.55L292.01 253.25" stroke="#0000ff" stroke-width="1.05" fill="none"/><path d="M291.98 255.4H297.98M294.98 252.4V258.4M292.83 253.25L297.13 257.55M292.83 257.55L297.13 253.25" stroke="#0000ff" stroke-width="1.05" fill="none"/><path d="M297.1 255.4H303.1M300.1 252.4V258.4M297.95 253.25L302.25 257.55M297.95 257.55L302.25 253.25" stroke="#0000ff" stroke-width="1.05" fill="none"/><path d="M302.22 255.4H308.22M305.22 252.4V258.4M303.07 253.25L307.37 257.55M303.07 257.55L307.37 253.25" stroke="#0000ff" stroke-width="1.05" fill="none"/><path d="M307.34 255.4H313.34M310.34 252.4V258.4M308.19 253.25L312.49 257.55M308.19 257.55L312.49 253.25" stroke="#0000ff" stroke-width="1.05" fill="none"/><path d="M312.46 255.4H318.46M315.46 252.4V258.4M313.31 253.25L317.61 257.55M313.31 257.55L317.61 253.25" stroke="#0000ff" stroke-width="1.05" fill="none"/><path d="M317.58 255.4H323.58M320.58 252.4V258.4M318.43 253.25L322.73 257.55M318.43 257.55L322.73 253.25" stroke="#0000ff" stroke-width="1.05" fill="none"/><path d="M322.7 255.4H328.7M325.7 252.4V258.4M323.55 253.25L327.85 257.55M323.55 257.55L327.85 253.25" stroke="#0000ff" stroke-width="1.05" fill="none"/></g>
<path d="M23.62 66.64 L28.74 173.36 L33.86 217.53 L38.98 236.89 L44.1 245.72 L49.22 250.2 L54.34 252.5 L59.46 253.95 L64.58 254.67 L69.7 255.04 L74.82 255.28 L79.94 255.4 L85.06 255.4 L90.18 255.4 L95.3 255.4 L100.42 255.4 L105.54 255.4 L110.66 255.4 L115.78 255.4 L120.9 255.4 L126.02 255.4 L131.14 255.4 L136.26 255.4 L141.38 255.4 L146.5 255.4 L151.62 255.4 L156.74 255.4 L161.86 255.4 L166.98 255.4 L172.1 255.4 L177.22 255.4 L182.34 255.4 L187.46 255.4 L192.58 255.4 L197.7 255.4 L202.82 255.4 L207.94 255.4 L213.06 255.4 L218.18 255.4 L223.3 255.4 L228.42 255.4 L233.54 255.4 L238.66 255.4 L243.78 255.4 L248.9 255.4 L254.02 255.4 L259.14 255.4 L264.26 255.4 L269.38 255.4 L274.5 255.4 L279.62 255.4 L284.74 255.4 L289.86 255.4 L294.98 255.4 L300.1 255.4 L305.22 255.4 L310.34 255.4 L315.46 255.4 L320.58 255.4 L325.7 255.4" fill="none" stroke="#ff0000" stroke-width="1.1" stroke-dasharray="3.9 3.4"/>
<g><path d="M20.72 66.64H26.52M23.62 63.74V69.54" stroke="#ff0000" stroke-width="1.05" fill="none"/><path d="M25.84 173.36H31.64M28.74 170.46V176.26" stroke="#ff0000" stroke-width="1.05" fill="none"/><path d="M30.96 217.53H36.76M33.86 214.63V220.43" stroke="#ff0000" stroke-width="1.05" fill="none"/><path d="M36.08 236.89H41.88M38.98 233.99V239.79" stroke="#ff0000" stroke-width="1.05" fill="none"/><path d="M41.2 245.72H47M44.1 242.82V248.62" stroke="#ff0000" stroke-width="1.05" fill="none"/><path d="M46.32 250.2H52.12M49.22 247.3V253.1" stroke="#ff0000" stroke-width="1.05" fill="none"/><path d="M51.44 252.5H57.24M54.34 249.6V255.4" stroke="#ff0000" stroke-width="1.05" fill="none"/><path d="M56.56 253.95H62.36M59.46 251.05V256.85" stroke="#ff0000" stroke-width="1.05" fill="none"/><path d="M61.68 254.67H67.48M64.58 251.77V257.57" stroke="#ff0000" stroke-width="1.05" fill="none"/><path d="M66.8 255.04H72.6M69.7 252.14V257.94" stroke="#ff0000" stroke-width="1.05" fill="none"/><path d="M71.92 255.28H77.72M74.82 252.38V258.18" stroke="#ff0000" stroke-width="1.05" fill="none"/><path d="M77.04 255.4H82.84M79.94 252.5V258.3" stroke="#ff0000" stroke-width="1.05" fill="none"/><path d="M82.16 255.4H87.96M85.06 252.5V258.3" stroke="#ff0000" stroke-width="1.05" fill="none"/><path d="M87.28 255.4H93.08M90.18 252.5V258.3" stroke="#ff0000" stroke-width="1.05" fill="none"/><path d="M92.4 255.4H98.2M95.3 252.5V258.3" stroke="#ff0000" stroke-width="1.05" fill="none"/><path d="M97.52 255.4H103.32M100.42 252.5V258.3" stroke="#ff0000" stroke-width="1.05" fill="none"/><path d="M102.64 255.4H108.44M105.54 252.5V258.3" stroke="#ff0000" stroke-width="1.05" fill="none"/><path d="M107.76 255.4H113.56M110.66 252.5V258.3" stroke="#ff0000" stroke-width="1.05" fill="none"/><path d="M112.88 255.4H118.68M115.78 252.5V258.3" stroke="#ff0000" stroke-width="1.05" fill="none"/><path d="M118 255.4H123.8M120.9 252.5V258.3" stroke="#ff0000" stroke-width="1.05" fill="none"/><path d="M123.12 255.4H128.92M126.02 252.5V258.3" stroke="#ff0000" stroke-width="1.05" fill="none"/><path d="M128.24 255.4H134.04M131.14 252.5V258.3" stroke="#ff0000" stroke-width="1.05" fill="none"/><path d="M133.36 255.4H139.16M136.26 252.5V258.3" stroke="#ff0000" stroke-width="1.05" fill="none"/><path d="M138.48 255.4H144.28M141.38 252.5V258.3" stroke="#ff0000" stroke-width="1.05" fill="none"/><path d="M143.6 255.4H149.4M146.5 252.5V258.3" stroke="#ff0000" stroke-width="1.05" fill="none"/><path d="M148.72 255.4H154.52M151.62 252.5V258.3" stroke="#ff0000" stroke-width="1.05" fill="none"/><path d="M153.84 255.4H159.64M156.74 252.5V258.3" stroke="#ff0000" stroke-width="1.05" fill="none"/><path d="M158.96 255.4H164.76M161.86 252.5V258.3" stroke="#ff0000" stroke-width="1.05" fill="none"/><path d="M164.08 255.4H169.88M166.98 252.5V258.3" stroke="#ff0000" stroke-width="1.05" fill="none"/><path d="M169.2 255.4H175M172.1 252.5V258.3" stroke="#ff0000" stroke-width="1.05" fill="none"/><path d="M174.32 255.4H180.12M177.22 252.5V258.3" stroke="#ff0000" stroke-width="1.05" fill="none"/><path d="M179.44 255.4H185.24M182.34 252.5V258.3" stroke="#ff0000" stroke-width="1.05" fill="none"/><path d="M184.56 255.4H190.36M187.46 252.5V258.3" stroke="#ff0000" stroke-width="1.05" fill="none"/><path d="M189.68 255.4H195.48M192.58 252.5V258.3" stroke="#ff0000" stroke-width="1.05" fill="none"/><path d="M194.8 255.4H200.6M197.7 252.5V258.3" stroke="#ff0000" stroke-width="1.05" fill="none"/><path d="M199.92 255.4H205.72M202.82 252.5V258.3" stroke="#ff0000" stroke-width="1.05" fill="none"/><path d="M205.04 255.4H210.84M207.94 252.5V258.3" stroke="#ff0000" stroke-width="1.05" fill="none"/><path d="M210.16 255.4H215.96M213.06 252.5V258.3" stroke="#ff0000" stroke-width="1.05" fill="none"/><path d="M215.28 255.4H221.08M218.18 252.5V258.3" stroke="#ff0000" stroke-width="1.05" fill="none"/><path d="M220.4 255.4H226.2M223.3 252.5V258.3" stroke="#ff0000" stroke-width="1.05" fill="none"/><path d="M225.52 255.4H231.32M228.42 252.5V258.3" stroke="#ff0000" stroke-width="1.05" fill="none"/><path d="M230.64 255.4H236.44M233.54 252.5V258.3" stroke="#ff0000" stroke-width="1.05" fill="none"/><path d="M235.76 255.4H241.56M238.66 252.5V258.3" stroke="#ff0000" stroke-width="1.05" fill="none"/><path d="M240.88 255.4H246.68M243.78 252.5V258.3" stroke="#ff0000" stroke-width="1.05" fill="none"/><path d="M246 255.4H251.8M248.9 252.5V258.3" stroke="#ff0000" stroke-width="1.05" fill="none"/><path d="M251.12 255.4H256.92M254.02 252.5V258.3" stroke="#ff0000" stroke-width="1.05" fill="none"/><path d="M256.24 255.4H262.04M259.14 252.5V258.3" stroke="#ff0000" stroke-width="1.05" fill="none"/><path d="M261.36 255.4H267.16M264.26 252.5V258.3" stroke="#ff0000" stroke-width="1.05" fill="none"/><path d="M266.48 255.4H272.28M269.38 252.5V258.3" stroke="#ff0000" stroke-width="1.05" fill="none"/><path d="M271.6 255.4H277.4M274.5 252.5V258.3" stroke="#ff0000" stroke-width="1.05" fill="none"/><path d="M276.72 255.4H282.52M279.62 252.5V258.3" stroke="#ff0000" stroke-width="1.05" fill="none"/><path d="M281.84 255.4H287.64M284.74 252.5V258.3" stroke="#ff0000" stroke-width="1.05" fill="none"/><path d="M286.96 255.4H292.76M289.86 252.5V258.3" stroke="#ff0000" stroke-width="1.05" fill="none"/><path d="M292.08 255.4H297.88M294.98 252.5V258.3" stroke="#ff0000" stroke-width="1.05" fill="none"/><path d="M297.2 255.4H303M300.1 252.5V258.3" stroke="#ff0000" stroke-width="1.05" fill="none"/><path d="M302.32 255.4H308.12M305.22 252.5V258.3" stroke="#ff0000" stroke-width="1.05" fill="none"/><path d="M307.44 255.4H313.24M310.34 252.5V258.3" stroke="#ff0000" stroke-width="1.05" fill="none"/><path d="M312.56 255.4H318.36M315.46 252.5V258.3" stroke="#ff0000" stroke-width="1.05" fill="none"/><path d="M317.68 255.4H323.48M320.58 252.5V258.3" stroke="#ff0000" stroke-width="1.05" fill="none"/><path d="M322.8 255.4H328.6M325.7 252.5V258.3" stroke="#ff0000" stroke-width="1.05" fill="none"/></g>
<path d="M23.62 88.54 L28.74 178.32 L33.86 218.25 L38.98 236.89 L44.1 245.96 L49.22 250.2 L54.34 252.5 L59.46 253.95 L64.58 254.67 L69.7 255.04 L74.82 255.28 L79.94 255.4 L85.06 255.4 L90.18 255.4 L95.3 255.4 L100.42 255.4 L105.54 255.4 L110.66 255.4 L115.78 255.4 L120.9 255.4 L126.02 255.4 L131.14 255.4 L136.26 255.4 L141.38 255.4 L146.5 255.4 L151.62 255.4 L156.74 255.4 L161.86 255.4 L166.98 255.4 L172.1 255.4 L177.22 255.4 L182.34 255.4 L187.46 255.4 L192.58 255.4 L197.7 255.4 L202.82 255.4 L207.94 255.4 L213.06 255.4 L218.18 255.4 L223.3 255.4 L228.42 255.4 L233.54 255.4 L238.66 255.4 L243.78 255.4 L248.9 255.4 L254.02 255.4 L259.14 255.4 L264.26 255.4 L269.38 255.4 L274.5 255.4 L279.62 255.4 L284.74 255.4 L289.86 255.4 L294.98 255.4 L300.1 255.4 L305.22 255.4 L310.34 255.4 L315.46 255.4 L320.58 255.4 L325.7 255.4" fill="none" stroke="#00ffff" stroke-width="1.1" stroke-dasharray="3.9 3.4"/>
<g><polygon points="23.62,92.24 20.42,86.69 26.82,86.69" fill="none" stroke="#00ffff" stroke-width="1.05"/><polygon points="28.74,182.02 25.54,176.47 31.94,176.47" fill="none" stroke="#00ffff" stroke-width="1.05"/><polygon points="33.86,221.95 30.66,216.4 37.06,216.4" fill="none" stroke="#00ffff" stroke-width="1.05"/><polygon points="38.98,240.59 35.78,235.04 42.18,235.04" fill="none" stroke="#00ffff" stroke-width="1.05"/><polygon points="44.1,249.66 40.9,244.11 47.3,244.11" fill="none" stroke="#00ffff" stroke-width="1.05"/><polygon points="49.22,253.9 46.02,248.35 52.42,248.35" fill="none" stroke="#00ffff" stroke-width="1.05"/><polygon points="54.34,256.2 51.14,250.65 57.54,250.65" fill="none" stroke="#00ffff" stroke-width="1.05"/><polygon points="59.46,257.65 56.26,252.1 62.66,252.1" fill="none" stroke="#00ffff" stroke-width="1.05"/><polygon points="64.58,258.37 61.38,252.82 67.78,252.82" fill="none" stroke="#00ffff" stroke-width="1.05"/><polygon points="69.7,258.74 66.5,253.19 72.9,253.19" fill="none" stroke="#00ffff" stroke-width="1.05"/><polygon points="74.82,258.98 71.62,253.43 78.02,253.43" fill="none" stroke="#00ffff" stroke-width="1.05"/><polygon points="79.94,259.1 76.74,253.55 83.14,253.55" fill="none" stroke="#00ffff" stroke-width="1.05"/><polygon points="85.06,259.1 81.86,253.55 88.26,253.55" fill="none" stroke="#00ffff" stroke-width="1.05"/><polygon points="90.18,259.1 86.98,253.55 93.38,253.55" fill="none" stroke="#00ffff" stroke-width="1.05"/><polygon points="95.3,259.1 92.1,253.55 98.5,253.55" fill="none" stroke="#00ffff" stroke-width="1.05"/><polygon points="100.42,259.1 97.22,253.55 103.62,253.55" fill="none" stroke="#00ffff" stroke-width="1.05"/><polygon points="105.54,259.1 102.34,253.55 108.74,253.55" fill="none" stroke="#00ffff" stroke-width="1.05"/><polygon points="110.66,259.1 107.46,253.55 113.86,253.55" fill="none" stroke="#00ffff" stroke-width="1.05"/><polygon points="115.78,259.1 112.58,253.55 118.98,253.55" fill="none" stroke="#00ffff" stroke-width="1.05"/><polygon points="120.9,259.1 117.7,253.55 124.1,253.55" fill="none" stroke="#00ffff" stroke-width="1.05"/><polygon points="126.02,259.1 122.82,253.55 129.22,253.55" fill="none" stroke="#00ffff" stroke-width="1.05"/><polygon points="131.14,259.1 127.94,253.55 134.34,253.55" fill="none" stroke="#00ffff" stroke-width="1.05"/><polygon points="136.26,259.1 133.06,253.55 139.46,253.55" fill="none" stroke="#00ffff" stroke-width="1.05"/><polygon points="141.38,259.1 138.18,253.55 144.58,253.55" fill="none" stroke="#00ffff" stroke-width="1.05"/><polygon points="146.5,259.1 143.3,253.55 149.7,253.55" fill="none" stroke="#00ffff" stroke-width="1.05"/><polygon points="151.62,259.1 148.42,253.55 154.82,253.55" fill="none" stroke="#00ffff" stroke-width="1.05"/><polygon points="156.74,259.1 153.54,253.55 159.94,253.55" fill="none" stroke="#00ffff" stroke-width="1.05"/><polygon points="161.86,259.1 158.66,253.55 165.06,253.55" fill="none" stroke="#00ffff" stroke-width="1.05"/><polygon points="166.98,259.1 163.78,253.55 170.18,253.55" fill="none" stroke="#00ffff" stroke-width="1.05"/><polygon points="172.1,259.1 168.9,253.55 175.3,253.55" fill="none" stroke="#00ffff" stroke-width="1.05"/><polygon points="177.22,259.1 174.02,253.55 180.42,253.55" fill="none" stroke="#00ffff" stroke-width="1.05"/><polygon points="182.34,259.1 179.14,253.55 185.54,253.55" fill="none" stroke="#00ffff" stroke-width="1.05"/><polygon points="187.46,259.1 184.26,253.55 190.66,253.55" fill="none" stroke="#00ffff" stroke-width="1.05"/><polygon points="192.58,259.1 189.38,253.55 195.78,253.55" fill="none" stroke="#00ffff" stroke-width="1.05"/><polygon points="197.7,259.1 194.5,253.55 200.9,253.55" fill="none" stroke="#00ffff" stroke-width="1.05"/><polygon points="202.82,259.1 199.62,253.55 206.02,253.55" fill="none" stroke="#00ffff" stroke-width="1.05"/><polygon points="207.94,259.1 204.74,253.55 211.14,253.55" fill="none" stroke="#00ffff" stroke-width="1.05"/><polygon points="213.06,259.1 209.86,253.55 216.26,253.55" fill="none" stroke="#00ffff" stroke-width="1.05"/><polygon points="218.18,259.1 214.98,253.55 221.38,253.55" fill="none" stroke="#00ffff" stroke-width="1.05"/><polygon points="223.3,259.1 220.1,253.55 226.5,253.55" fill="none" stroke="#00ffff" stroke-width="1.05"/><polygon points="228.42,259.1 225.22,253.55 231.62,253.55" fill="none" stroke="#00ffff" stroke-width="1.05"/><polygon points="233.54,259.1 230.34,253.55 236.74,253.55" fill="none" stroke="#00ffff" stroke-width="1.05"/><polygon points="238.66,259.1 235.46,253.55 241.86,253.55" fill="none" stroke="#00ffff" stroke-width="1.05"/><polygon points="243.78,259.1 240.58,253.55 246.98,253.55" fill="none" stroke="#00ffff" stroke-width="1.05"/><polygon points="248.9,259.1 245.7,253.55 252.1,253.55" fill="none" stroke="#00ffff" stroke-width="1.05"/><polygon points="254.02,259.1 250.82,253.55 257.22,253.55" fill="none" stroke="#00ffff" stroke-width="1.05"/><polygon points="259.14,259.1 255.94,253.55 262.34,253.55" fill="none" stroke="#00ffff" stroke-width="1.05"/><polygon points="264.26,259.1 261.06,253.55 267.46,253.55" fill="none" stroke="#00ffff" stroke-width="1.05"/><polygon points="269.38,259.1 266.18,253.55 272.58,253.55" fill="none" stroke="#00ffff" stroke-width="1.05"/><polygon points="274.5,259.1 271.3,253.55 277.7,253.55" fill="none" stroke="#00ffff" stroke-width="1.05"/><polygon points="279.62,259.1 276.42,253.55 282.82,253.55" fill="none" stroke="#00ffff" stroke-width="1.05"/><polygon points="284.74,259.1 281.54,253.55 287.94,253.55" fill="none" stroke="#00ffff" stroke-width="1.05"/><polygon points="289.86,259.1 286.66,253.55 293.06,253.55" fill="none" stroke="#00ffff" stroke-width="1.05"/><polygon points="294.98,259.1 291.78,253.55 298.18,253.55" fill="none" stroke="#00ffff" stroke-width="1.05"/><polygon points="300.1,259.1 296.9,253.55 303.3,253.55" fill="none" stroke="#00ffff" stroke-width="1.05"/><polygon points="305.22,259.1 302.02,253.55 308.42,253.55" fill="none" stroke="#00ffff" stroke-width="1.05"/><polygon points="310.34,259.1 307.14,253.55 313.54,253.55" fill="none" stroke="#00ffff" stroke-width="1.05"/><polygon points="315.46,259.1 312.26,253.55 318.66,253.55" fill="none" stroke="#00ffff" stroke-width="1.05"/><polygon points="320.58,259.1 317.38,253.55 323.78,253.55" fill="none" stroke="#00ffff" stroke-width="1.05"/><polygon points="325.7,259.1 322.5,253.55 328.9,253.55" fill="none" stroke="#00ffff" stroke-width="1.05"/></g>
<rect x="236.3" y="20.45" width="82.6" height="72.75" fill="#fff" stroke="#686868" stroke-width="1"/>
<path d="M239.1 27.5H266.8" stroke="#ffff00" stroke-width="1.1"/>
<polygon points="256.9,27.5 251.35,24.3 251.35,30.7" fill="none" stroke="#ffff00" stroke-width="1.05"/>
<text x="269.4" y="30.65" font-size="8.5" fill="#000" class="lg">HCOA</text>
<path d="M239.1 39.2H266.8" stroke="#000000" stroke-width="1.1"/>
<polygon points="253.2,35.5 256.1,39.2 253.2,42.9 250.3,39.2" fill="none" stroke="#000000" stroke-width="1.05"/>
<text x="269.4" y="42.35" font-size="8.5" fill="#000" class="lg">BBPSO</text>
<path d="M239.1 50.9H266.8" stroke="#00ff00" stroke-width="1.1"/>
<circle cx="253.2" cy="50.9" r="2.9" fill="none" stroke="#00ff00" stroke-width="1.05"/>
<text x="269.4" y="54.05" font-size="8.5" fill="#000" class="lg">PBBPSO</text>
<path d="M239.1 62.6H266.8" stroke="#0000ff" stroke-width="1.1"/>
<path d="M250.2 62.6H256.2M253.2 59.6V65.6M251.05 60.45L255.35 64.75M251.05 64.75L255.35 60.45" stroke="#0000ff" stroke-width="1.05" fill="none"/>
<text x="269.4" y="65.75" font-size="8.5" fill="#000" class="lg">DLSBBPSO</text>
<path d="M239.1 74.3H266.8" stroke="#ff0000" stroke-width="1.1" stroke-dasharray="3.9 3.4"/>
<path d="M250.3 74.3H256.1M253.2 71.4V77.2" stroke="#ff0000" stroke-width="1.05" fill="none"/>
<text x="269.4" y="77.45" font-size="8.5" fill="#000" class="lg">TBBPSO</text>
<path d="M239.1 86H266.8" stroke="#00ffff" stroke-width="1.1" stroke-dasharray="3.9 3.4"/>
<polygon points="253.2,89.7 250,84.15 256.4,84.15" fill="none" stroke="#00ffff" stroke-width="1.05"/>
<text x="269.4" y="89.15" font-size="8.5" fill="#000" class="lg">ETBBPSO</text>
<text x="172" y="282.5" font-size="10.1" text-anchor="middle">(a)</text>
<rect x="375.8" y="13.4" width="307.8" height="242" fill="#fff" stroke="#8a8a8a" stroke-width="1"/>
<path d="M375.8 255.4v-3.1M375.8 13.4v3.1M444.2 255.4v-3.1M444.2 13.4v3.1M512.6 255.4v-3.1M512.6 13.4v3.1M581 255.4v-3.1M581 13.4v3.1M649.4 255.4v-3.1M649.4 13.4v3.1M375.8 255.4h3.1M683.6 255.4h-3.1M375.8 220.83h3.1M683.6 220.83h-3.1M375.8 186.26h3.1M683.6 186.26h-3.1M375.8 151.69h3.1M683.6 151.69h-3.1M375.8 117.11h3.1M683.6 117.11h-3.1M375.8 82.54h3.1M683.6 82.54h-3.1M375.8 47.97h3.1M683.6 47.97h-3.1M375.8 13.4h3.1M683.6 13.4h-3.1" stroke="#8a8a8a" stroke-width="1" fill="none"/>
<text x="375.8" y="269.1" text-anchor="middle">60</text>
<text x="444.2" y="269.1" text-anchor="middle">70</text>
<text x="512.6" y="269.1" text-anchor="middle">80</text>
<text x="581" y="269.1" text-anchor="middle">90</text>
<text x="649.4" y="269.1" text-anchor="middle">100</text>
<text x="371.5" y="259.1" text-anchor="end">130</text>
<text x="371.5" y="224.53" text-anchor="end">140</text>
<text x="371.5" y="189.96" text-anchor="end">150</text>
<text x="371.5" y="155.39" text-anchor="end">160</text>
<text x="371.5" y="120.81" text-anchor="end">170</text>
<text x="371.5" y="86.24" text-anchor="end">180</text>
<text x="371.5" y="51.67" text-anchor="end">190</text>
<text x="371.5" y="17.1" text-anchor="end">200</text>
<path d="M382.64 194.9 L389.48 197.32 L396.32 199.39 L403.16 201.12 L410 202.85 L416.84 204.23 L423.68 205.44 L430.52 206.65 L437.36 207.52 L444.2 208.21 L451.04 209.07 L457.88 209.77 L464.72 210.8 L471.56 211.84 L478.4 212.88 L485.24 213.91 L492.08 214.78 L498.92 215.64 L505.76 216.33 L512.6 217.89 L519.44 219.27 L526.28 220.48 L533.12 221.69 L539.96 221.97 L546.8 222.38 L553.64 222.8 L560.48 223.39 L567.32 224.42 L574.16 226.01 L581 228.09 L587.84 230.51 L594.68 232.93 L601.52 235.18 L608.36 236.21 L615.2 236.73 L622.04 237.08 L628.88 237.77 L635.72 238.29 L642.56 239.32 L649.4 241.74 L656.24 244.86" fill="none" stroke="#ffff00" stroke-width="1.1"/>
<g><polygon points="386.34,194.9 380.79,191.7 380.79,198.1" fill="none" stroke="#ffff00" stroke-width="1.05"/><polygon points="393.18,197.32 387.63,194.12 387.63,200.52" fill="none" stroke="#ffff00" stroke-width="1.05"/><polygon points="400.02,199.39 394.47,196.19 394.47,202.6" fill="none" stroke="#ffff00" stroke-width="1.05"/><polygon points="406.86,201.12 401.31,197.92 401.31,204.33" fill="none" stroke="#ffff00" stroke-width="1.05"/><polygon points="413.7,202.85 408.15,199.65 408.15,206.06" fill="none" stroke="#ffff00" stroke-width="1.05"/><polygon points="420.54,204.23 414.99,201.03 414.99,207.44" fill="none" stroke="#ffff00" stroke-width="1.05"/><polygon points="427.38,205.44 421.83,202.24 421.83,208.65" fill="none" stroke="#ffff00" stroke-width="1.05"/><polygon points="434.22,206.65 428.67,203.45 428.67,209.86" fill="none" stroke="#ffff00" stroke-width="1.05"/><polygon points="441.06,207.52 435.51,204.31 435.51,210.72" fill="none" stroke="#ffff00" stroke-width="1.05"/><polygon points="447.9,208.21 442.35,205.01 442.35,211.41" fill="none" stroke="#ffff00" stroke-width="1.05"/><polygon points="454.74,209.07 449.19,205.87 449.19,212.28" fill="none" stroke="#ffff00" stroke-width="1.05"/><polygon points="461.58,209.77 456.03,206.56 456.03,212.97" fill="none" stroke="#ffff00" stroke-width="1.05"/><polygon points="468.42,210.8 462.87,207.6 462.87,214.01" fill="none" stroke="#ffff00" stroke-width="1.05"/><polygon points="475.26,211.84 469.71,208.64 469.71,215.04" fill="none" stroke="#ffff00" stroke-width="1.05"/><polygon points="482.1,212.88 476.55,209.67 476.55,216.08" fill="none" stroke="#ffff00" stroke-width="1.05"/><polygon points="488.94,213.91 483.39,210.71 483.39,217.12" fill="none" stroke="#ffff00" stroke-width="1.05"/><polygon points="495.78,214.78 490.23,211.57 490.23,217.98" fill="none" stroke="#ffff00" stroke-width="1.05"/><polygon points="502.62,215.64 497.07,212.44 497.07,218.85" fill="none" stroke="#ffff00" stroke-width="1.05"/><polygon points="509.46,216.33 503.91,213.13 503.91,219.54" fill="none" stroke="#ffff00" stroke-width="1.05"/><polygon points="516.3,217.89 510.75,214.69 510.75,221.09" fill="none" stroke="#ffff00" stroke-width="1.05"/><polygon points="523.14,219.27 517.59,216.07 517.59,222.48" fill="none" stroke="#ffff00" stroke-width="1.05"/><polygon points="529.98,220.48 524.43,217.28 524.43,223.69" fill="none" stroke="#ffff00" stroke-width="1.05"/><polygon points="536.82,221.69 531.27,218.49 531.27,224.9" fill="none" stroke="#ffff00" stroke-width="1.05"/><polygon points="543.66,221.97 538.11,218.77 538.11,225.17" fill="none" stroke="#ffff00" stroke-width="1.05"/><polygon points="550.5,222.38 544.95,219.18 544.95,225.59" fill="none" stroke="#ffff00" stroke-width="1.05"/><polygon points="557.34,222.8 551.79,219.59 551.79,226" fill="none" stroke="#ffff00" stroke-width="1.05"/><polygon points="564.18,223.39 558.63,220.18 558.63,226.59" fill="none" stroke="#ffff00" stroke-width="1.05"/><polygon points="571.02,224.42 565.47,221.22 565.47,227.63" fill="none" stroke="#ffff00" stroke-width="1.05"/><polygon points="577.86,226.01 572.31,222.81 572.31,229.22" fill="none" stroke="#ffff00" stroke-width="1.05"/><polygon points="584.7,228.09 579.15,224.88 579.15,231.29" fill="none" stroke="#ffff00" stroke-width="1.05"/><polygon points="591.54,230.51 585.99,227.3 585.99,233.71" fill="none" stroke="#ffff00" stroke-width="1.05"/><polygon points="598.38,232.93 592.83,229.72 592.83,236.13" fill="none" stroke="#ffff00" stroke-width="1.05"/><polygon points="605.22,235.18 599.67,231.97 599.67,238.38" fill="none" stroke="#ffff00" stroke-width="1.05"/><polygon points="612.06,236.21 606.51,233.01 606.51,239.42" fill="none" stroke="#ffff00" stroke-width="1.05"/><polygon points="618.9,236.73 613.35,233.53 613.35,239.94" fill="none" stroke="#ffff00" stroke-width="1.05"/><polygon points="625.74,237.08 620.19,233.87 620.19,240.28" fill="none" stroke="#ffff00" stroke-width="1.05"/><polygon points="632.58,237.77 627.03,234.56 627.03,240.97" fill="none" stroke="#ffff00" stroke-width="1.05"/><polygon points="639.42,238.29 633.87,235.08 633.87,241.49" fill="none" stroke="#ffff00" stroke-width="1.05"/><polygon points="646.26,239.32 640.71,236.12 640.71,242.53" fill="none" stroke="#ffff00" stroke-width="1.05"/><polygon points="653.1,241.74 647.55,238.54 647.55,244.95" fill="none" stroke="#ffff00" stroke-width="1.05"/><polygon points="659.94,244.86 654.39,241.65 654.39,248.06" fill="none" stroke="#ffff00" stroke-width="1.05"/></g>
<path d="M382.64 130.25 L389.48 131.46 L396.32 133.02 L403.16 134.4 L410 135.78 L416.84 137.17 L423.68 138.55 L430.52 139.59 L437.36 140.8 L444.2 141.66 L451.04 142.7 L457.88 143.73 L464.72 144.43 L471.56 145.46 L478.4 146.85 L485.24 148.4 L492.08 149.96 L498.92 151.34 L505.76 152.72 L512.6 154.11 L519.44 155.25 L526.28 156.18 L533.12 156.87 L539.96 157.56 L546.8 158.39 L553.64 159.29 L560.48 160.16 L567.32 161.37 L574.16 162.75 L581 164.82 L587.84 167.24 L594.68 169.32 L601.52 171.74 L608.36 173.81 L615.2 175.89 L622.04 177.96 L628.88 180.03 L635.72 182.11 L642.56 184.18 L649.4 186.6 L656.24 189.02" fill="none" stroke="#000000" stroke-width="1.1"/>
<g><polygon points="382.64,126.55 385.54,130.25 382.64,133.95 379.74,130.25" fill="none" stroke="#000000" stroke-width="1.05"/><polygon points="389.48,127.76 392.38,131.46 389.48,135.16 386.58,131.46" fill="none" stroke="#000000" stroke-width="1.05"/><polygon points="396.32,129.32 399.22,133.02 396.32,136.72 393.42,133.02" fill="none" stroke="#000000" stroke-width="1.05"/><polygon points="403.16,130.7 406.06,134.4 403.16,138.1 400.26,134.4" fill="none" stroke="#000000" stroke-width="1.05"/><polygon points="410,132.08 412.9,135.78 410,139.48 407.1,135.78" fill="none" stroke="#000000" stroke-width="1.05"/><polygon points="416.84,133.47 419.74,137.17 416.84,140.87 413.94,137.17" fill="none" stroke="#000000" stroke-width="1.05"/><polygon points="423.68,134.85 426.58,138.55 423.68,142.25 420.78,138.55" fill="none" stroke="#000000" stroke-width="1.05"/><polygon points="430.52,135.89 433.42,139.59 430.52,143.29 427.62,139.59" fill="none" stroke="#000000" stroke-width="1.05"/><polygon points="437.36,137.1 440.26,140.8 437.36,144.5 434.46,140.8" fill="none" stroke="#000000" stroke-width="1.05"/><polygon points="444.2,137.96 447.1,141.66 444.2,145.36 441.3,141.66" fill="none" stroke="#000000" stroke-width="1.05"/><polygon points="451.04,139 453.94,142.7 451.04,146.4 448.14,142.7" fill="none" stroke="#000000" stroke-width="1.05"/><polygon points="457.88,140.03 460.78,143.73 457.88,147.43 454.98,143.73" fill="none" stroke="#000000" stroke-width="1.05"/><polygon points="464.72,140.73 467.62,144.43 464.72,148.13 461.82,144.43" fill="none" stroke="#000000" stroke-width="1.05"/><polygon points="471.56,141.76 474.46,145.46 471.56,149.16 468.66,145.46" fill="none" stroke="#000000" stroke-width="1.05"/><polygon points="478.4,143.15 481.3,146.85 478.4,150.55 475.5,146.85" fill="none" stroke="#000000" stroke-width="1.05"/><polygon points="485.24,144.7 488.14,148.4 485.24,152.1 482.34,148.4" fill="none" stroke="#000000" stroke-width="1.05"/><polygon points="492.08,146.26 494.98,149.96 492.08,153.66 489.18,149.96" fill="none" stroke="#000000" stroke-width="1.05"/><polygon points="498.92,147.64 501.82,151.34 498.92,155.04 496.02,151.34" fill="none" stroke="#000000" stroke-width="1.05"/><polygon points="505.76,149.02 508.66,152.72 505.76,156.42 502.86,152.72" fill="none" stroke="#000000" stroke-width="1.05"/><polygon points="512.6,150.41 515.5,154.11 512.6,157.81 509.7,154.11" fill="none" stroke="#000000" stroke-width="1.05"/><polygon points="519.44,151.55 522.34,155.25 519.44,158.95 516.54,155.25" fill="none" stroke="#000000" stroke-width="1.05"/><polygon points="526.28,152.48 529.18,156.18 526.28,159.88 523.38,156.18" fill="none" stroke="#000000" stroke-width="1.05"/><polygon points="533.12,153.17 536.02,156.87 533.12,160.57 530.22,156.87" fill="none" stroke="#000000" stroke-width="1.05"/><polygon points="539.96,153.86 542.86,157.56 539.96,161.26 537.06,157.56" fill="none" stroke="#000000" stroke-width="1.05"/><polygon points="546.8,154.69 549.7,158.39 546.8,162.09 543.9,158.39" fill="none" stroke="#000000" stroke-width="1.05"/><polygon points="553.64,155.59 556.54,159.29 553.64,162.99 550.74,159.29" fill="none" stroke="#000000" stroke-width="1.05"/><polygon points="560.48,156.46 563.38,160.16 560.48,163.86 557.58,160.16" fill="none" stroke="#000000" stroke-width="1.05"/><polygon points="567.32,157.67 570.22,161.37 567.32,165.07 564.42,161.37" fill="none" stroke="#000000" stroke-width="1.05"/><polygon points="574.16,159.05 577.06,162.75 574.16,166.45 571.26,162.75" fill="none" stroke="#000000" stroke-width="1.05"/><polygon points="581,161.12 583.9,164.82 581,168.52 578.1,164.82" fill="none" stroke="#000000" stroke-width="1.05"/><polygon points="587.84,163.54 590.74,167.24 587.84,170.94 584.94,167.24" fill="none" stroke="#000000" stroke-width="1.05"/><polygon points="594.68,165.62 597.58,169.32 594.68,173.02 591.78,169.32" fill="none" stroke="#000000" stroke-width="1.05"/><polygon points="601.52,168.04 604.42,171.74 601.52,175.44 598.62,171.74" fill="none" stroke="#000000" stroke-width="1.05"/><polygon points="608.36,170.11 611.26,173.81 608.36,177.51 605.46,173.81" fill="none" stroke="#000000" stroke-width="1.05"/><polygon points="615.2,172.19 618.1,175.89 615.2,179.59 612.3,175.89" fill="none" stroke="#000000" stroke-width="1.05"/><polygon points="622.04,174.26 624.94,177.96 622.04,181.66 619.14,177.96" fill="none" stroke="#000000" stroke-width="1.05"/><polygon points="628.88,176.33 631.78,180.03 628.88,183.73 625.98,180.03" fill="none" stroke="#000000" stroke-width="1.05"/><polygon points="635.72,178.41 638.62,182.11 635.72,185.81 632.82,182.11" fill="none" stroke="#000000" stroke-width="1.05"/><polygon points="642.56,180.48 645.46,184.18 642.56,187.88 639.66,184.18" fill="none" stroke="#000000" stroke-width="1.05"/><polygon points="649.4,182.9 652.3,186.6 649.4,190.3 646.5,186.6" fill="none" stroke="#000000" stroke-width="1.05"/><polygon points="656.24,185.32 659.14,189.02 656.24,192.72 653.34,189.02" fill="none" stroke="#000000" stroke-width="1.05"/></g>
<path d="M382.64 33.11 L389.48 35.87 L396.32 38.29 L403.16 41.06 L410 43.48 L416.84 45.55 L423.68 47.63 L430.52 50.05 L437.36 52.12 L444.2 54.19 L451.04 56.27 L457.88 58 L464.72 59.73 L471.56 61.8 L478.4 63.18 L485.24 64.91 L492.08 66.29 L498.92 67.68 L505.76 68.71 L512.6 69.41 L519.44 70.44 L526.28 71.13 L533.12 72.17 L539.96 73.21 L546.8 74.25 L553.64 75.28 L560.48 76.32 L567.32 77.7 L574.16 79.09 L581 80.47 L587.84 81.85 L594.68 82.89 L601.52 83.41 L608.36 83.93 L615.2 84.27 L622.04 84.62 L628.88 84.96 L635.72 85.31 L642.56 85.65 L649.4 86 L656.24 86.35" fill="none" stroke="#00ff00" stroke-width="1.1"/>
<g><circle cx="382.64" cy="33.11" r="2.9" fill="none" stroke="#00ff00" stroke-width="1.05"/><circle cx="389.48" cy="35.87" r="2.9" fill="none" stroke="#00ff00" stroke-width="1.05"/><circle cx="396.32" cy="38.29" r="2.9" fill="none" stroke="#00ff00" stroke-width="1.05"/><circle cx="403.16" cy="41.06" r="2.9" fill="none" stroke="#00ff00" stroke-width="1.05"/><circle cx="410" cy="43.48" r="2.9" fill="none" stroke="#00ff00" stroke-width="1.05"/><circle cx="416.84" cy="45.55" r="2.9" fill="none" stroke="#00ff00" stroke-width="1.05"/><circle cx="423.68" cy="47.63" r="2.9" fill="none" stroke="#00ff00" stroke-width="1.05"/><circle cx="430.52" cy="50.05" r="2.9" fill="none" stroke="#00ff00" stroke-width="1.05"/><circle cx="437.36" cy="52.12" r="2.9" fill="none" stroke="#00ff00" stroke-width="1.05"/><circle cx="444.2" cy="54.19" r="2.9" fill="none" stroke="#00ff00" stroke-width="1.05"/><circle cx="451.04" cy="56.27" r="2.9" fill="none" stroke="#00ff00" stroke-width="1.05"/><circle cx="457.88" cy="58" r="2.9" fill="none" stroke="#00ff00" stroke-width="1.05"/><circle cx="464.72" cy="59.73" r="2.9" fill="none" stroke="#00ff00" stroke-width="1.05"/><circle cx="471.56" cy="61.8" r="2.9" fill="none" stroke="#00ff00" stroke-width="1.05"/><circle cx="478.4" cy="63.18" r="2.9" fill="none" stroke="#00ff00" stroke-width="1.05"/><circle cx="485.24" cy="64.91" r="2.9" fill="none" stroke="#00ff00" stroke-width="1.05"/><circle cx="492.08" cy="66.29" r="2.9" fill="none" stroke="#00ff00" stroke-width="1.05"/><circle cx="498.92" cy="67.68" r="2.9" fill="none" stroke="#00ff00" stroke-width="1.05"/><circle cx="505.76" cy="68.71" r="2.9" fill="none" stroke="#00ff00" stroke-width="1.05"/><circle cx="512.6" cy="69.41" r="2.9" fill="none" stroke="#00ff00" stroke-width="1.05"/><circle cx="519.44" cy="70.44" r="2.9" fill="none" stroke="#00ff00" stroke-width="1.05"/><circle cx="526.28" cy="71.13" r="2.9" fill="none" stroke="#00ff00" stroke-width="1.05"/><circle cx="533.12" cy="72.17" r="2.9" fill="none" stroke="#00ff00" stroke-width="1.05"/><circle cx="539.96" cy="73.21" r="2.9" fill="none" stroke="#00ff00" stroke-width="1.05"/><circle cx="546.8" cy="74.25" r="2.9" fill="none" stroke="#00ff00" stroke-width="1.05"/><circle cx="553.64" cy="75.28" r="2.9" fill="none" stroke="#00ff00" stroke-width="1.05"/><circle cx="560.48" cy="76.32" r="2.9" fill="none" stroke="#00ff00" stroke-width="1.05"/><circle cx="567.32" cy="77.7" r="2.9" fill="none" stroke="#00ff00" stroke-width="1.05"/><circle cx="574.16" cy="79.09" r="2.9" fill="none" stroke="#00ff00" stroke-width="1.05"/><circle cx="581" cy="80.47" r="2.9" fill="none" stroke="#00ff00" stroke-width="1.05"/><circle cx="587.84" cy="81.85" r="2.9" fill="none" stroke="#00ff00" stroke-width="1.05"/><circle cx="594.68" cy="82.89" r="2.9" fill="none" stroke="#00ff00" stroke-width="1.05"/><circle cx="601.52" cy="83.41" r="2.9" fill="none" stroke="#00ff00" stroke-width="1.05"/><circle cx="608.36" cy="83.93" r="2.9" fill="none" stroke="#00ff00" stroke-width="1.05"/><circle cx="615.2" cy="84.27" r="2.9" fill="none" stroke="#00ff00" stroke-width="1.05"/><circle cx="622.04" cy="84.62" r="2.9" fill="none" stroke="#00ff00" stroke-width="1.05"/><circle cx="628.88" cy="84.96" r="2.9" fill="none" stroke="#00ff00" stroke-width="1.05"/><circle cx="635.72" cy="85.31" r="2.9" fill="none" stroke="#00ff00" stroke-width="1.05"/><circle cx="642.56" cy="85.65" r="2.9" fill="none" stroke="#00ff00" stroke-width="1.05"/><circle cx="649.4" cy="86" r="2.9" fill="none" stroke="#00ff00" stroke-width="1.05"/><circle cx="656.24" cy="86.35" r="2.9" fill="none" stroke="#00ff00" stroke-width="1.05"/></g>
<path d="M382.64 96.89 L389.48 100.87 L396.32 104.32 L403.16 107.43 L410 110.2 L416.84 113.31 L423.68 116.42 L430.52 119.53 L437.36 122.13 L444.2 124.2 L451.04 126.45 L457.88 128.7 L464.72 130.6 L471.56 132.33 L478.4 134.4 L485.24 135.78 L492.08 137.51 L498.92 139.24 L505.76 141.83 L512.6 143.15 L519.44 144.43 L526.28 145.81 L533.12 147.02 L539.96 147.88 L546.8 149.09 L553.64 150.48 L560.48 151.69 L567.32 153.07 L574.16 154.8 L581 156.87 L587.84 158.77 L594.68 160.67 L601.52 162.06 L608.36 163.27 L615.2 164.48 L622.04 165.51 L628.88 166.21 L635.72 167.24 L642.56 167.93 L649.4 168.45 L656.24 168.97" fill="none" stroke="#0000ff" stroke-width="1.1"/>
<g><path d="M379.64 96.89H385.64M382.64 93.89V99.89M380.49 94.74L384.79 99.04M380.49 99.04L384.79 94.74" stroke="#0000ff" stroke-width="1.05" fill="none"/><path d="M386.48 100.87H392.48M389.48 97.87V103.87M387.33 98.72L391.63 103.02M387.33 103.02L391.63 98.72" stroke="#0000ff" stroke-width="1.05" fill="none"/><path d="M393.32 104.32H399.32M396.32 101.32V107.32M394.17 102.17L398.47 106.47M394.17 106.47L398.47 102.17" stroke="#0000ff" stroke-width="1.05" fill="none"/><path d="M400.16 107.43H406.16M403.16 104.43V110.43M401.01 105.28L405.31 109.58M401.01 109.58L405.31 105.28" stroke="#0000ff" stroke-width="1.05" fill="none"/><path d="M407 110.2H413M410 107.2V113.2M407.85 108.05L412.15 112.35M407.85 112.35L412.15 108.05" stroke="#0000ff" stroke-width="1.05" fill="none"/><path d="M413.84 113.31H419.84M416.84 110.31V116.31M414.69 111.16L418.99 115.46M414.69 115.46L418.99 111.16" stroke="#0000ff" stroke-width="1.05" fill="none"/><path d="M420.68 116.42H426.68M423.68 113.42V119.42M421.53 114.27L425.83 118.57M421.53 118.57L425.83 114.27" stroke="#0000ff" stroke-width="1.05" fill="none"/><path d="M427.52 119.53H433.52M430.52 116.53V122.53M428.37 117.38L432.67 121.68M428.37 121.68L432.67 117.38" stroke="#0000ff" stroke-width="1.05" fill="none"/><path d="M434.36 122.13H440.36M437.36 119.13V125.13M435.21 119.98L439.51 124.28M435.21 124.28L439.51 119.98" stroke="#0000ff" stroke-width="1.05" fill="none"/><path d="M441.2 124.2H447.2M444.2 121.2V127.2M442.05 122.05L446.35 126.35M442.05 126.35L446.35 122.05" stroke="#0000ff" stroke-width="1.05" fill="none"/><path d="M448.04 126.45H454.04M451.04 123.45V129.45M448.89 124.3L453.19 128.6M448.89 128.6L453.19 124.3" stroke="#0000ff" stroke-width="1.05" fill="none"/><path d="M454.88 128.7H460.88M457.88 125.7V131.7M455.73 126.55L460.03 130.85M455.73 130.85L460.03 126.55" stroke="#0000ff" stroke-width="1.05" fill="none"/><path d="M461.72 130.6H467.72M464.72 127.6V133.6M462.57 128.45L466.87 132.75M462.57 132.75L466.87 128.45" stroke="#0000ff" stroke-width="1.05" fill="none"/><path d="M468.56 132.33H474.56M471.56 129.33V135.33M469.41 130.18L473.71 134.48M469.41 134.48L473.71 130.18" stroke="#0000ff" stroke-width="1.05" fill="none"/><path d="M475.4 134.4H481.4M478.4 131.4V137.4M476.25 132.25L480.55 136.55M476.25 136.55L480.55 132.25" stroke="#0000ff" stroke-width="1.05" fill="none"/><path d="M482.24 135.78H488.24M485.24 132.78V138.78M483.09 133.63L487.39 137.93M483.09 137.93L487.39 133.63" stroke="#0000ff" stroke-width="1.05" fill="none"/><path d="M489.08 137.51H495.08M492.08 134.51V140.51M489.93 135.36L494.23 139.66M489.93 139.66L494.23 135.36" stroke="#0000ff" stroke-width="1.05" fill="none"/><path d="M495.92 139.24H501.92M498.92 136.24V142.24M496.77 137.09L501.07 141.39M496.77 141.39L501.07 137.09" stroke="#0000ff" stroke-width="1.05" fill="none"/><path d="M502.76 141.83H508.76M505.76 138.83V144.83M503.61 139.68L507.91 143.98M503.61 143.98L507.91 139.68" stroke="#0000ff" stroke-width="1.05" fill="none"/><path d="M509.6 143.15H515.6M512.6 140.15V146.15M510.45 141L514.75 145.3M510.45 145.3L514.75 141" stroke="#0000ff" stroke-width="1.05" fill="none"/><path d="M516.44 144.43H522.44M519.44 141.43V147.43M517.29 142.28L521.59 146.58M517.29 146.58L521.59 142.28" stroke="#0000ff" stroke-width="1.05" fill="none"/><path d="M523.28 145.81H529.28M526.28 142.81V148.81M524.13 143.66L528.43 147.96M524.13 147.96L528.43 143.66" stroke="#0000ff" stroke-width="1.05" fill="none"/><path d="M530.12 147.02H536.12M533.12 144.02V150.02M530.97 144.87L535.27 149.17M530.97 149.17L535.27 144.87" stroke="#0000ff" stroke-width="1.05" fill="none"/><path d="M536.96 147.88H542.96M539.96 144.88V150.88M537.81 145.73L542.11 150.03M537.81 150.03L542.11 145.73" stroke="#0000ff" stroke-width="1.05" fill="none"/><path d="M543.8 149.09H549.8M546.8 146.09V152.09M544.65 146.94L548.95 151.24M544.65 151.24L548.95 146.94" stroke="#0000ff" stroke-width="1.05" fill="none"/><path d="M550.64 150.48H556.64M553.64 147.48V153.48M551.49 148.33L555.79 152.63M551.49 152.63L555.79 148.33" stroke="#0000ff" stroke-width="1.05" fill="none"/><path d="M557.48 151.69H563.48M560.48 148.69V154.69M558.33 149.54L562.63 153.84M558.33 153.84L562.63 149.54" stroke="#0000ff" stroke-width="1.05" fill="none"/><path d="M564.32 153.07H570.32M567.32 150.07V156.07M565.17 150.92L569.47 155.22M565.17 155.22L569.47 150.92" stroke="#0000ff" stroke-width="1.05" fill="none"/><path d="M571.16 154.8H577.16M574.16 151.8V157.8M572.01 152.65L576.31 156.95M572.01 156.95L576.31 152.65" stroke="#0000ff" stroke-width="1.05" fill="none"/><path d="M578 156.87H584M581 153.87V159.87M578.85 154.72L583.15 159.02M578.85 159.02L583.15 154.72" stroke="#0000ff" stroke-width="1.05" fill="none"/><path d="M584.84 158.77H590.84M587.84 155.77V161.77M585.69 156.62L589.99 160.92M585.69 160.92L589.99 156.62" stroke="#0000ff" stroke-width="1.05" fill="none"/><path d="M591.68 160.67H597.68M594.68 157.67V163.67M592.53 158.52L596.83 162.82M592.53 162.82L596.83 158.52" stroke="#0000ff" stroke-width="1.05" fill="none"/><path d="M598.52 162.06H604.52M601.52 159.06V165.06M599.37 159.91L603.67 164.21M599.37 164.21L603.67 159.91" stroke="#0000ff" stroke-width="1.05" fill="none"/><path d="M605.36 163.27H611.36M608.36 160.27V166.27M606.21 161.12L610.51 165.42M606.21 165.42L610.51 161.12" stroke="#0000ff" stroke-width="1.05" fill="none"/><path d="M612.2 164.48H618.2M615.2 161.48V167.48M613.05 162.33L617.35 166.63M613.05 166.63L617.35 162.33" stroke="#0000ff" stroke-width="1.05" fill="none"/><path d="M619.04 165.51H625.04M622.04 162.51V168.51M619.89 163.36L624.19 167.66M619.89 167.66L624.19 163.36" stroke="#0000ff" stroke-width="1.05" fill="none"/><path d="M625.88 166.21H631.88M628.88 163.21V169.21M626.73 164.06L631.03 168.36M626.73 168.36L631.03 164.06" stroke="#0000ff" stroke-width="1.05" fill="none"/><path d="M632.72 167.24H638.72M635.72 164.24V170.24M633.57 165.09L637.87 169.39M633.57 169.39L637.87 165.09" stroke="#0000ff" stroke-width="1.05" fill="none"/><path d="M639.56 167.93H645.56M642.56 164.93V170.93M640.41 165.78L644.71 170.08M640.41 170.08L644.71 165.78" stroke="#0000ff" stroke-width="1.05" fill="none"/><path d="M646.4 168.45H652.4M649.4 165.45V171.45M647.25 166.3L651.55 170.6M647.25 170.6L651.55 166.3" stroke="#0000ff" stroke-width="1.05" fill="none"/><path d="M653.24 168.97H659.24M656.24 165.97V171.97M654.09 166.82L658.39 171.12M654.09 171.12L658.39 166.82" stroke="#0000ff" stroke-width="1.05" fill="none"/></g>
<path d="M382.64 61.45 L389.48 64.57 L396.32 66.99 L403.16 69.75 L410 73.21 L416.84 77.01 L423.68 80.47 L430.52 83.58 L437.36 86.35 L444.2 89.46 L451.04 92.22 L457.88 94.64 L464.72 97.06 L471.56 100 L478.4 102.94 L485.24 105.71 L492.08 107.78 L498.92 109.85 L505.76 111.41 L512.6 112.62 L519.44 113.66 L526.28 115.39 L533.12 117.11 L539.96 119.19 L546.8 120.57 L553.64 121.95 L560.48 123.68 L567.32 125.24 L574.16 126.1 L581 127.14 L587.84 128.18 L594.68 129.21 L601.52 130.25 L608.36 131.29 L615.2 132.33 L622.04 133.02 L628.88 133.36 L635.72 133.71 L642.56 133.88 L649.4 134.05 L656.24 134.57" fill="none" stroke="#ff0000" stroke-width="1.1" stroke-dasharray="3.9 3.4"/>
<g><path d="M379.74 61.45H385.54M382.64 58.55V64.35" stroke="#ff0000" stroke-width="1.05" fill="none"/><path d="M386.58 64.57H392.38M389.48 61.67V67.47" stroke="#ff0000" stroke-width="1.05" fill="none"/><path d="M393.42 66.99H399.22M396.32 64.09V69.89" stroke="#ff0000" stroke-width="1.05" fill="none"/><path d="M400.26 69.75H406.06M403.16 66.85V72.65" stroke="#ff0000" stroke-width="1.05" fill="none"/><path d="M407.1 73.21H412.9M410 70.31V76.11" stroke="#ff0000" stroke-width="1.05" fill="none"/><path d="M413.94 77.01H419.74M416.84 74.11V79.91" stroke="#ff0000" stroke-width="1.05" fill="none"/><path d="M420.78 80.47H426.58M423.68 77.57V83.37" stroke="#ff0000" stroke-width="1.05" fill="none"/><path d="M427.62 83.58H433.42M430.52 80.68V86.48" stroke="#ff0000" stroke-width="1.05" fill="none"/><path d="M434.46 86.35H440.26M437.36 83.45V89.25" stroke="#ff0000" stroke-width="1.05" fill="none"/><path d="M441.3 89.46H447.1M444.2 86.56V92.36" stroke="#ff0000" stroke-width="1.05" fill="none"/><path d="M448.14 92.22H453.94M451.04 89.32V95.12" stroke="#ff0000" stroke-width="1.05" fill="none"/><path d="M454.98 94.64H460.78M457.88 91.74V97.54" stroke="#ff0000" stroke-width="1.05" fill="none"/><path d="M461.82 97.06H467.62M464.72 94.16V99.96" stroke="#ff0000" stroke-width="1.05" fill="none"/><path d="M468.66 100H474.46M471.56 97.1V102.9" stroke="#ff0000" stroke-width="1.05" fill="none"/><path d="M475.5 102.94H481.3M478.4 100.04V105.84" stroke="#ff0000" stroke-width="1.05" fill="none"/><path d="M482.34 105.71H488.14M485.24 102.81V108.61" stroke="#ff0000" stroke-width="1.05" fill="none"/><path d="M489.18 107.78H494.98M492.08 104.88V110.68" stroke="#ff0000" stroke-width="1.05" fill="none"/><path d="M496.02 109.85H501.82M498.92 106.95V112.75" stroke="#ff0000" stroke-width="1.05" fill="none"/><path d="M502.86 111.41H508.66M505.76 108.51V114.31" stroke="#ff0000" stroke-width="1.05" fill="none"/><path d="M509.7 112.62H515.5M512.6 109.72V115.52" stroke="#ff0000" stroke-width="1.05" fill="none"/><path d="M516.54 113.66H522.34M519.44 110.76V116.56" stroke="#ff0000" stroke-width="1.05" fill="none"/><path d="M523.38 115.39H529.18M526.28 112.49V118.29" stroke="#ff0000" stroke-width="1.05" fill="none"/><path d="M530.22 117.11H536.02M533.12 114.21V120.01" stroke="#ff0000" stroke-width="1.05" fill="none"/><path d="M537.06 119.19H542.86M539.96 116.29V122.09" stroke="#ff0000" stroke-width="1.05" fill="none"/><path d="M543.9 120.57H549.7M546.8 117.67V123.47" stroke="#ff0000" stroke-width="1.05" fill="none"/><path d="M550.74 121.95H556.54M553.64 119.05V124.85" stroke="#ff0000" stroke-width="1.05" fill="none"/><path d="M557.58 123.68H563.38M560.48 120.78V126.58" stroke="#ff0000" stroke-width="1.05" fill="none"/><path d="M564.42 125.24H570.22M567.32 122.34V128.14" stroke="#ff0000" stroke-width="1.05" fill="none"/><path d="M571.26 126.1H577.06M574.16 123.2V129" stroke="#ff0000" stroke-width="1.05" fill="none"/><path d="M578.1 127.14H583.9M581 124.24V130.04" stroke="#ff0000" stroke-width="1.05" fill="none"/><path d="M584.94 128.18H590.74M587.84 125.28V131.08" stroke="#ff0000" stroke-width="1.05" fill="none"/><path d="M591.78 129.21H597.58M594.68 126.31V132.11" stroke="#ff0000" stroke-width="1.05" fill="none"/><path d="M598.62 130.25H604.42M601.52 127.35V133.15" stroke="#ff0000" stroke-width="1.05" fill="none"/><path d="M605.46 131.29H611.26M608.36 128.39V134.19" stroke="#ff0000" stroke-width="1.05" fill="none"/><path d="M612.3 132.33H618.1M615.2 129.43V135.23" stroke="#ff0000" stroke-width="1.05" fill="none"/><path d="M619.14 133.02H624.94M622.04 130.12V135.92" stroke="#ff0000" stroke-width="1.05" fill="none"/><path d="M625.98 133.36H631.78M628.88 130.46V136.26" stroke="#ff0000" stroke-width="1.05" fill="none"/><path d="M632.82 133.71H638.62M635.72 130.81V136.61" stroke="#ff0000" stroke-width="1.05" fill="none"/><path d="M639.66 133.88H645.46M642.56 130.98V136.78" stroke="#ff0000" stroke-width="1.05" fill="none"/><path d="M646.5 134.05H652.3M649.4 131.15V136.95" stroke="#ff0000" stroke-width="1.05" fill="none"/><path d="M653.34 134.57H659.14M656.24 131.67V137.47" stroke="#ff0000" stroke-width="1.05" fill="none"/></g>
<path d="M382.64 109.16 L389.48 111.41 L396.32 113.66 L403.16 116.25 L410 120.23 L416.84 123.34 L423.68 126.45 L430.52 128.18 L437.36 129.91 L444.2 131.46 L451.04 132.84 L457.88 133.71 L464.72 134.75 L471.56 135.78 L478.4 136.47 L485.24 137.17 L492.08 138.03 L498.92 138.72 L505.76 139.93 L512.6 140.28 L519.44 140.8 L526.28 141.31 L533.12 141.66 L539.96 142.01 L546.8 142.52 L553.64 143.04 L560.48 143.39 L567.32 144.08 L574.16 144.77 L581 145.46 L587.84 146.15 L594.68 146.85 L601.52 147.54 L608.36 148.23 L615.2 148.92 L622.04 149.61 L628.88 150.48 L635.72 151.17 L642.56 151.86 L649.4 152.55 L656.24 153.24" fill="none" stroke="#00ffff" stroke-width="1.1" stroke-dasharray="3.9 3.4"/>
<g><polygon points="382.64,112.86 379.44,107.31 385.84,107.31" fill="none" stroke="#00ffff" stroke-width="1.05"/><polygon points="389.48,115.11 386.28,109.56 392.68,109.56" fill="none" stroke="#00ffff" stroke-width="1.05"/><polygon points="396.32,117.36 393.12,111.81 399.52,111.81" fill="none" stroke="#00ffff" stroke-width="1.05"/><polygon points="403.16,119.95 399.96,114.4 406.36,114.4" fill="none" stroke="#00ffff" stroke-width="1.05"/><polygon points="410,123.93 406.8,118.38 413.2,118.38" fill="none" stroke="#00ffff" stroke-width="1.05"/><polygon points="416.84,127.04 413.64,121.49 420.04,121.49" fill="none" stroke="#00ffff" stroke-width="1.05"/><polygon points="423.68,130.15 420.48,124.6 426.88,124.6" fill="none" stroke="#00ffff" stroke-width="1.05"/><polygon points="430.52,131.88 427.32,126.33 433.72,126.33" fill="none" stroke="#00ffff" stroke-width="1.05"/><polygon points="437.36,133.61 434.16,128.06 440.56,128.06" fill="none" stroke="#00ffff" stroke-width="1.05"/><polygon points="444.2,135.16 441,129.61 447.4,129.61" fill="none" stroke="#00ffff" stroke-width="1.05"/><polygon points="451.04,136.54 447.84,130.99 454.24,130.99" fill="none" stroke="#00ffff" stroke-width="1.05"/><polygon points="457.88,137.41 454.68,131.86 461.08,131.86" fill="none" stroke="#00ffff" stroke-width="1.05"/><polygon points="464.72,138.45 461.52,132.9 467.92,132.9" fill="none" stroke="#00ffff" stroke-width="1.05"/><polygon points="471.56,139.48 468.36,133.93 474.76,133.93" fill="none" stroke="#00ffff" stroke-width="1.05"/><polygon points="478.4,140.17 475.2,134.62 481.6,134.62" fill="none" stroke="#00ffff" stroke-width="1.05"/><polygon points="485.24,140.87 482.04,135.32 488.44,135.32" fill="none" stroke="#00ffff" stroke-width="1.05"/><polygon points="492.08,141.73 488.88,136.18 495.28,136.18" fill="none" stroke="#00ffff" stroke-width="1.05"/><polygon points="498.92,142.42 495.72,136.87 502.12,136.87" fill="none" stroke="#00ffff" stroke-width="1.05"/><polygon points="505.76,143.63 502.56,138.08 508.96,138.08" fill="none" stroke="#00ffff" stroke-width="1.05"/><polygon points="512.6,143.98 509.4,138.43 515.8,138.43" fill="none" stroke="#00ffff" stroke-width="1.05"/><polygon points="519.44,144.5 516.24,138.95 522.64,138.95" fill="none" stroke="#00ffff" stroke-width="1.05"/><polygon points="526.28,145.01 523.08,139.46 529.48,139.46" fill="none" stroke="#00ffff" stroke-width="1.05"/><polygon points="533.12,145.36 529.92,139.81 536.32,139.81" fill="none" stroke="#00ffff" stroke-width="1.05"/><polygon points="539.96,145.71 536.76,140.16 543.16,140.16" fill="none" stroke="#00ffff" stroke-width="1.05"/><polygon points="546.8,146.22 543.6,140.67 550,140.67" fill="none" stroke="#00ffff" stroke-width="1.05"/><polygon points="553.64,146.74 550.44,141.19 556.84,141.19" fill="none" stroke="#00ffff" stroke-width="1.05"/><polygon points="560.48,147.09 557.28,141.54 563.68,141.54" fill="none" stroke="#00ffff" stroke-width="1.05"/><polygon points="567.32,147.78 564.12,142.23 570.52,142.23" fill="none" stroke="#00ffff" stroke-width="1.05"/><polygon points="574.16,148.47 570.96,142.92 577.36,142.92" fill="none" stroke="#00ffff" stroke-width="1.05"/><polygon points="581,149.16 577.8,143.61 584.2,143.61" fill="none" stroke="#00ffff" stroke-width="1.05"/><polygon points="587.84,149.85 584.64,144.3 591.04,144.3" fill="none" stroke="#00ffff" stroke-width="1.05"/><polygon points="594.68,150.55 591.48,145 597.88,145" fill="none" stroke="#00ffff" stroke-width="1.05"/><polygon points="601.52,151.24 598.32,145.69 604.72,145.69" fill="none" stroke="#00ffff" stroke-width="1.05"/><polygon points="608.36,151.93 605.16,146.38 611.56,146.38" fill="none" stroke="#00ffff" stroke-width="1.05"/><polygon points="615.2,152.62 612,147.07 618.4,147.07" fill="none" stroke="#00ffff" stroke-width="1.05"/><polygon points="622.04,153.31 618.84,147.76 625.24,147.76" fill="none" stroke="#00ffff" stroke-width="1.05"/><polygon points="628.88,154.18 625.68,148.63 632.08,148.63" fill="none" stroke="#00ffff" stroke-width="1.05"/><polygon points="635.72,154.87 632.52,149.32 638.92,149.32" fill="none" stroke="#00ffff" stroke-width="1.05"/><polygon points="642.56,155.56 639.36,150.01 645.76,150.01" fill="none" stroke="#00ffff" stroke-width="1.05"/><polygon points="649.4,156.25 646.2,150.7 652.6,150.7" fill="none" stroke="#00ffff" stroke-width="1.05"/><polygon points="656.24,156.94 653.04,151.39 659.44,151.39" fill="none" stroke="#00ffff" stroke-width="1.05"/></g>
<rect x="593.5" y="20.45" width="82.1" height="72.75" fill="#fff" stroke="#686868" stroke-width="1"/>
<path d="M596.3 27.5H624.8" stroke="#ffff00" stroke-width="1.1"/>
<polygon points="614.3,27.5 608.75,24.3 608.75,30.7" fill="none" stroke="#ffff00" stroke-width="1.05"/>
<text x="626.65" y="30.65" font-size="8.5" fill="#000" class="lg">HCOA</text>
<path d="M596.3 39.2H624.8" stroke="#000000" stroke-width="1.1"/>
<polygon points="610.6,35.5 613.5,39.2 610.6,42.9 607.7,39.2" fill="none" stroke="#000000" stroke-width="1.05"/>
<text x="626.65" y="42.35" font-size="8.5" fill="#000" class="lg">BBPSO</text>
<path d="M596.3 50.9H624.8" stroke="#00ff00" stroke-width="1.1"/>
<circle cx="610.6" cy="50.9" r="2.9" fill="none" stroke="#00ff00" stroke-width="1.05"/>
<text x="626.65" y="54.05" font-size="8.5" fill="#000" class="lg">PBBPSO</text>
<path d="M596.3 62.6H624.8" stroke="#0000ff" stroke-width="1.1"/>
<path d="M607.6 62.6H613.6M610.6 59.6V65.6M608.45 60.45L612.75 64.75M608.45 64.75L612.75 60.45" stroke="#0000ff" stroke-width="1.05" fill="none"/>
<text x="626.65" y="65.75" font-size="8.5" fill="#000" class="lg">DLSBBPSO</text>
<path d="M596.3 74.3H624.8" stroke="#ff0000" stroke-width="1.1" stroke-dasharray="3.9 3.4"/>
<path d="M607.7 74.3H613.5M610.6 71.4V77.2" stroke="#ff0000" stroke-width="1.05" fill="none"/>
<text x="626.65" y="77.45" font-size="8.5" fill="#000" class="lg">TBBPSO</text>
<path d="M596.3 86H624.8" stroke="#00ffff" stroke-width="1.1" stroke-dasharray="3.9 3.4"/>
<polygon points="610.6,89.7 607.4,84.15 613.8,84.15" fill="none" stroke="#00ffff" stroke-width="1.05"/>
<text x="626.65" y="89.15" font-size="8.5" fill="#000" class="lg">ETBBPSO</text>
<text x="529.5" y="282.5" font-size="10.1" text-anchor="middle">(b)</text>
</svg>
</body></html>
